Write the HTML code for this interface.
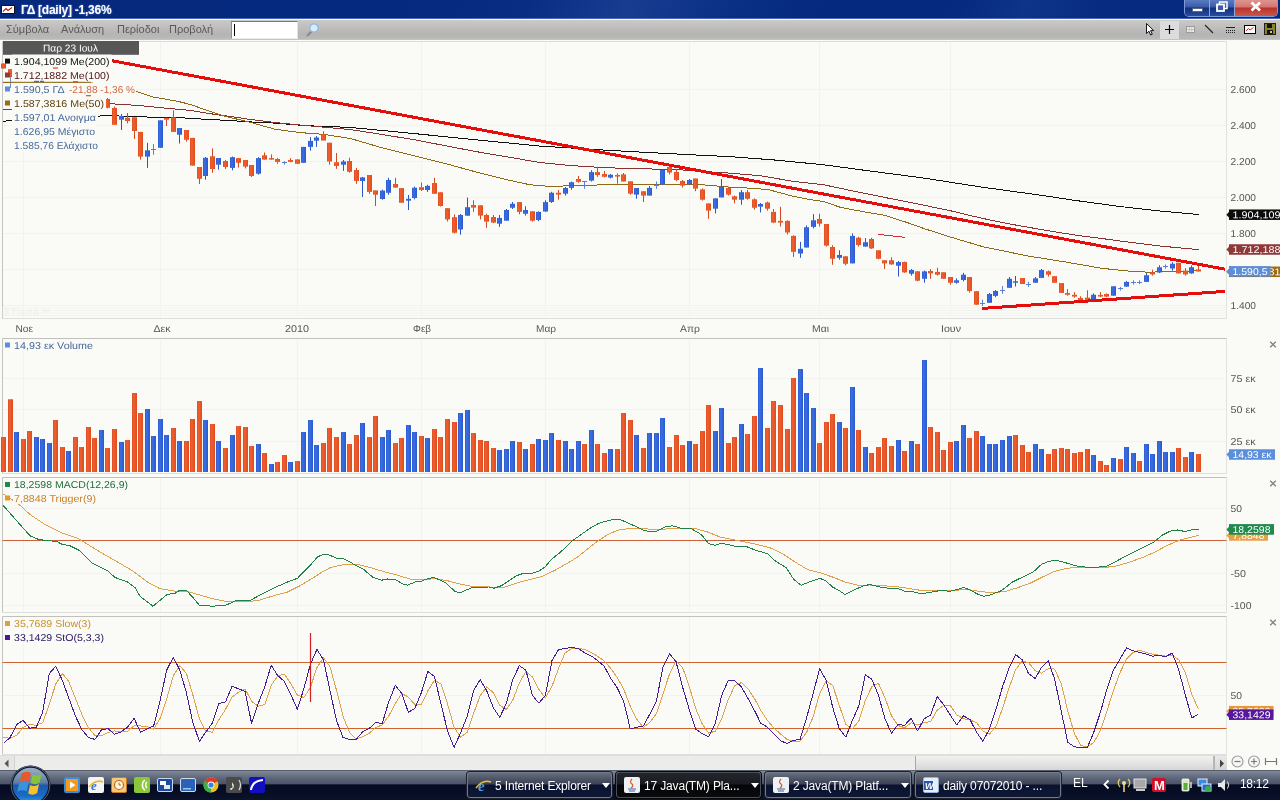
<!DOCTYPE html>
<html lang="el">
<head>
<meta charset="utf-8">
<title>ΓΔ [daily] -1,36%</title>
<style>
*{box-sizing:border-box;margin:0;padding:0}
html,body{width:1280px;height:800px;overflow:hidden;background:#fafaf6;font-family:"Liberation Sans","DejaVu Sans",sans-serif;}
#app{position:relative;width:1280px;height:800px;overflow:hidden}
#titlebar{position:absolute;left:0;top:0;width:1280px;height:19px;background:linear-gradient(115deg,#06287c 0%,#04297f 32%,#082d83 41%,#173c90 49%,#0a3086 57%,#04297f 64%,#04297f 74%,#0e3489 80%,#062b81 86%,#04297f 100%);border-bottom:1px solid #4668ba}
#titlebar .ico{position:absolute;left:1px;top:5px;width:14px;height:9px;background:#fff;border:1px solid #111}
#titlebar .ttl{position:absolute;left:21px;top:2px;height:17px;line-height:17px;color:#fff;font-weight:bold;font-size:12px;letter-spacing:-0.25px;text-shadow:0 0 2px #6a8fe0;white-space:nowrap}
#caps{position:absolute;left:1184px;top:-1px;width:94px;height:18px;border:1px solid #7f9ad8;border-top:none;border-radius:0 0 5px 5px;overflow:hidden;display:flex}
#caps div{height:17px;position:relative}
#caps .mn{width:25px;background:linear-gradient(#5f7fc4 0%,#3a5aa8 48%,#0f2f80 52%,#2a4c9c 100%);border-right:1px solid #8fa6dc}
#caps .rs{width:25px;background:linear-gradient(#5f7fc4 0%,#3a5aa8 48%,#0f2f80 52%,#2a4c9c 100%);border-right:1px solid #8fa6dc}
#caps .cl{width:43px;background:linear-gradient(#e09a94 0%,#d2756c 48%,#b8322a 52%,#c8584c 100%)}
#menubar{position:absolute;left:0;top:20px;width:1280px;height:20px;background:linear-gradient(#cbc9c6 0%,#c2c0be 30%,#b5b4b3 70%,#b9b9b8 92%,#c8c8c7 100%)}
#menubar span.m{position:absolute;top:3px;font-size:11px;line-height:13px;color:#5a5a5a;white-space:nowrap}
#search{position:absolute;left:231px;top:1px;width:67px;height:18px;background:#fff;border-top:1px solid #7a7a7a;border-left:1px solid #8a8a8a;border-right:1px solid #e4e4e4;border-bottom:1px solid #eee}
#search i{position:absolute;left:2px;top:2px;width:1px;height:12px;background:#000}
#chart{position:absolute;left:0;top:0}
#scroll{position:absolute;left:0;top:755px;width:1227px;height:15px;background:#ececeb;border-top:1px solid #dededc}
#scroll .thumb{position:absolute;left:915px;top:0;width:299px;height:14px;background:linear-gradient(#f1f1f1 0%,#e6e6e6 45%,#d5d5d5 100%);border-left:1px solid #a8a8a8;border-right:1px solid #b8b8b8}
#scroll .la{position:absolute;left:0;top:0;width:15px;height:14px;background:#e6e6e5;border-right:1px solid #d2d2d0}
#scroll .ra{position:absolute;left:1214px;top:0;width:13px;height:14px;background:linear-gradient(#e9e9e9,#d4d4d4);border-left:1px solid #b4b4b4}
#taskbar{position:absolute;left:0;top:770px;width:1280px;height:30px;background:linear-gradient(#3c414c 0%,#7f8898 4%,#737c8d 12%,#5a6376 30%,#4a5468 47%,#050c22 49%,#060d24 75%,#0b132c 100%);color:#fff;font-size:12px}
.tb{position:absolute;top:2px;height:26px;border:1px solid #737b8a;border-radius:3px;background:linear-gradient(#666e80 0%,#4c5466 25%,#3a4254 47%,#0a1230 49%,#0e1734 100%);white-space:nowrap;line-height:23px;box-shadow:0 0 0 1px #1a1f2a}
.tb.act{background:linear-gradient(#24262c 0%,#191b20 47%,#040506 49%,#0a0b0e 100%);border-color:#4a4e58;box-shadow:0 0 0 1px #05070a}
.tb span{position:absolute;left:27px;top:2px;font-size:12px;color:#fff;letter-spacing:-0.15px}
.tb b{position:absolute;right:1px;top:10px;width:0;height:0;border:4px solid transparent;border-top:5px solid #fff}
.tb em{position:absolute;left:7px;top:4px;width:16px;height:16px;border-radius:2px}
.ql{position:absolute;top:7px;width:16px;height:16px;border-radius:2px}
#tray{position:absolute;left:1070px;top:0;width:210px;height:31px}
#tray span{position:absolute;top:7px;font-size:12px;color:#fff}
</style>
</head>
<body>
<div id="app">
<div id="titlebar">
  <div class="ico"><svg width="12" height="7" viewBox="0 0 12 7" style="display:block"><polyline points="1,5.5 4,2.5 6,4.5 10,1.5" fill="none" stroke="#c01818" stroke-width="1.1"/></svg></div>
  <div class="ttl">ΓΔ [daily] -1,36%</div>
  <div id="caps"><div class="mn"><svg width="25" height="17"><rect x="7.5" y="9.5" width="10" height="3" fill="#fff" stroke="#4a5a80" stroke-width="0.8"/></svg></div><div class="rs"><svg width="25" height="17"><rect x="9.500" y="3" width="7.500" height="6.500" fill="none" stroke="#fff" stroke-width="1.500"/><rect x="7" y="5.500" width="7" height="6.500" fill="#3a5aa8" stroke="#fff" stroke-width="1.800"/></svg></div><div class="cl"><svg width="43" height="17"><path d="M16.500 3.500 L25 11.500 M25 3.500 L16.500 11.500" stroke="#fff" stroke-width="2.800" fill="none"/></svg></div></div>
</div>
<div id="menubar">
  <span class="m" style="left:6px">Σύμβολα</span>
  <span class="m" style="left:61px">Ανάλυση</span>
  <span class="m" style="left:117px">Περίοδοι</span>
  <span class="m" style="left:169px">Προβολή</span>
  <div id="search"><i></i></div>
  <svg style="position:absolute;left:303px;top:1px" width="20" height="18" viewBox="0 0 20 18"><line x1="9" y1="10" x2="4" y2="15" stroke="#8a8a8a" stroke-width="2"/><circle cx="11" cy="7" r="4.2" fill="#d6ecfa" stroke="#8fb8dc" stroke-width="1.2"/></svg>
  <svg style="position:absolute;left:1140px;top:0" width="140" height="20" viewBox="0 0 140 20">
    <rect x="20" y="1" width="19" height="18" fill="#dcdcdc"/>
    <path d="M6.5 3.5 v10 l2.4 -2.3 l1.8 3.8 l1.6 -.8 l-1.8 -3.6 h3.2 z" fill="#fff" stroke="#000" stroke-width="0.9"/>
    <path d="M29.5 5 v9 M25 9.5 h9" stroke="#000" stroke-width="1.2" fill="none"/>
    <rect x="46.5" y="6.5" width="8" height="6" fill="#eee" stroke="#999" stroke-width="1"/><path d="M46.5 9.5 h8 M49.2 6.5 v6 M51.8 6.5 v6" stroke="#aaa" stroke-width="0.6"/>
    <line x1="65" y1="5" x2="73" y2="13" stroke="#222" stroke-width="1.1"/>
    <path d="M86 7.5 h9" stroke="#222" stroke-width="1"/><path d="M86 10.5 h9 M86 12.5 h9" stroke="#222" stroke-width="1" stroke-dasharray="1 1"/>
    <rect x="104.500" y="5.500" width="11" height="8" fill="#fff" stroke="#000" stroke-width="1"/><polyline points="106,11 108.500,8.500 110,10 113.500,7.500" fill="none" stroke="#c01818" stroke-width="0.9"/>
    <rect x="124.500" y="3.500" width="11" height="11" fill="#8a8426" stroke="#222" stroke-width="1"/><rect x="127" y="4" width="5" height="4" fill="#111"/><rect x="127" y="10" width="6" height="4" fill="#111"/><rect x="130" y="11" width="2" height="2" fill="#d8d060"/>
  </svg>
</div>
<svg id="chart" width="1280" height="800" viewBox="0 0 1280 800" font-family="Liberation Sans, DejaVu Sans, sans-serif">
<defs>
<linearGradient id="go" x1="0" x2="1" y1="0" y2="0"><stop offset="0" stop-color="#df4d22"/><stop offset="0.35" stop-color="#ee6030"/><stop offset="1" stop-color="#e04a1e"/></linearGradient>
<linearGradient id="gb" x1="0" x2="1" y1="0" y2="0"><stop offset="0" stop-color="#2d5cd2"/><stop offset="0.35" stop-color="#3b6ee4"/><stop offset="1" stop-color="#2a58cc"/></linearGradient>
<clipPath id="cpMain"><rect x="0" y="41" width="1227" height="278"/></clipPath>
<clipPath id="cpAll"><rect x="0" y="0" width="1280" height="800"/></clipPath>
</defs>
<rect x="0" y="40" width="1280" height="716" fill="#fafaf6"/>
<line x1="23.5" y1="41.5" x2="23.5" y2="318.5" stroke="#f2f2ee"/>
<line x1="160.5" y1="41.5" x2="160.5" y2="318.5" stroke="#f2f2ee"/>
<line x1="297.5" y1="41.5" x2="297.5" y2="318.5" stroke="#f2f2ee"/>
<line x1="421.5" y1="41.5" x2="421.5" y2="318.5" stroke="#f2f2ee"/>
<line x1="545.5" y1="41.5" x2="545.5" y2="318.5" stroke="#f2f2ee"/>
<line x1="689.5" y1="41.5" x2="689.5" y2="318.5" stroke="#f2f2ee"/>
<line x1="819.5" y1="41.5" x2="819.5" y2="318.5" stroke="#f2f2ee"/>
<line x1="950.5" y1="41.5" x2="950.5" y2="318.5" stroke="#f2f2ee"/>
<line x1="2.5" y1="89.5" x2="1226.5" y2="89.5" stroke="#f2f2ee"/>
<line x1="2.5" y1="125.5" x2="1226.5" y2="125.5" stroke="#f2f2ee"/>
<line x1="2.5" y1="161.5" x2="1226.5" y2="161.5" stroke="#f2f2ee"/>
<line x1="2.5" y1="197.5" x2="1226.5" y2="197.5" stroke="#f2f2ee"/>
<line x1="2.5" y1="233.5" x2="1226.5" y2="233.5" stroke="#f2f2ee"/>
<line x1="2.5" y1="269.5" x2="1226.5" y2="269.5" stroke="#f2f2ee"/>
<line x1="2.5" y1="305.5" x2="1226.5" y2="305.5" stroke="#f2f2ee"/>
<line x1="2.5" y1="41.5" x2="2.5" y2="318.5" stroke="#c4c4c0"/>
<line x1="1226.5" y1="41.5" x2="1226.5" y2="318.5" stroke="#e2e2de"/>
<line x1="2.5" y1="41.5" x2="1226.5" y2="41.5" stroke="#dcdcd8"/>
<line x1="2.5" y1="318.5" x2="1226.5" y2="318.5" stroke="#dededa"/>
<line x1="23.5" y1="338.5" x2="23.5" y2="473.5" stroke="#f2f2ee"/>
<line x1="160.5" y1="338.5" x2="160.5" y2="473.5" stroke="#f2f2ee"/>
<line x1="297.5" y1="338.5" x2="297.5" y2="473.5" stroke="#f2f2ee"/>
<line x1="421.5" y1="338.5" x2="421.5" y2="473.5" stroke="#f2f2ee"/>
<line x1="545.5" y1="338.5" x2="545.5" y2="473.5" stroke="#f2f2ee"/>
<line x1="689.5" y1="338.5" x2="689.5" y2="473.5" stroke="#f2f2ee"/>
<line x1="819.5" y1="338.5" x2="819.5" y2="473.5" stroke="#f2f2ee"/>
<line x1="950.5" y1="338.5" x2="950.5" y2="473.5" stroke="#f2f2ee"/>
<line x1="2.5" y1="378.5" x2="1226.5" y2="378.5" stroke="#f2f2ee"/>
<line x1="2.5" y1="409.5" x2="1226.5" y2="409.5" stroke="#f2f2ee"/>
<line x1="2.5" y1="441.5" x2="1226.5" y2="441.5" stroke="#f2f2ee"/>
<line x1="2.5" y1="338.5" x2="2.5" y2="473.5" stroke="#c4c4c0"/>
<line x1="1226.5" y1="338.5" x2="1226.5" y2="473.5" stroke="#e2e2de"/>
<line x1="2.5" y1="338.5" x2="1226.5" y2="338.5" stroke="#c0c0bc"/>
<line x1="2.5" y1="473.5" x2="1226.5" y2="473.5" stroke="#dededa"/>
<line x1="23.5" y1="477.5" x2="23.5" y2="612.5" stroke="#f2f2ee"/>
<line x1="160.5" y1="477.5" x2="160.5" y2="612.5" stroke="#f2f2ee"/>
<line x1="297.5" y1="477.5" x2="297.5" y2="612.5" stroke="#f2f2ee"/>
<line x1="421.5" y1="477.5" x2="421.5" y2="612.5" stroke="#f2f2ee"/>
<line x1="545.5" y1="477.5" x2="545.5" y2="612.5" stroke="#f2f2ee"/>
<line x1="689.5" y1="477.5" x2="689.5" y2="612.5" stroke="#f2f2ee"/>
<line x1="819.5" y1="477.5" x2="819.5" y2="612.5" stroke="#f2f2ee"/>
<line x1="950.5" y1="477.5" x2="950.5" y2="612.5" stroke="#f2f2ee"/>
<line x1="2.5" y1="508.5" x2="1226.5" y2="508.5" stroke="#f2f2ee"/>
<line x1="2.5" y1="573.5" x2="1226.5" y2="573.5" stroke="#f2f2ee"/>
<line x1="2.5" y1="605.5" x2="1226.5" y2="605.5" stroke="#f2f2ee"/>
<line x1="2.5" y1="477.5" x2="2.5" y2="612.5" stroke="#c4c4c0"/>
<line x1="1226.5" y1="477.5" x2="1226.5" y2="612.5" stroke="#e2e2de"/>
<line x1="2.5" y1="477.5" x2="1226.5" y2="477.5" stroke="#c0c0bc"/>
<line x1="2.5" y1="612.5" x2="1226.5" y2="612.5" stroke="#dededa"/>
<line x1="23.5" y1="616.5" x2="23.5" y2="754.5" stroke="#f2f2ee"/>
<line x1="160.5" y1="616.5" x2="160.5" y2="754.5" stroke="#f2f2ee"/>
<line x1="297.5" y1="616.5" x2="297.5" y2="754.5" stroke="#f2f2ee"/>
<line x1="421.5" y1="616.5" x2="421.5" y2="754.5" stroke="#f2f2ee"/>
<line x1="545.5" y1="616.5" x2="545.5" y2="754.5" stroke="#f2f2ee"/>
<line x1="689.5" y1="616.5" x2="689.5" y2="754.5" stroke="#f2f2ee"/>
<line x1="819.5" y1="616.5" x2="819.5" y2="754.5" stroke="#f2f2ee"/>
<line x1="950.5" y1="616.5" x2="950.5" y2="754.5" stroke="#f2f2ee"/>
<line x1="2.5" y1="695.5" x2="1226.5" y2="695.5" stroke="#f2f2ee"/>
<line x1="2.5" y1="616.5" x2="2.5" y2="754.5" stroke="#c4c4c0"/>
<line x1="1226.5" y1="616.5" x2="1226.5" y2="754.5" stroke="#e2e2de"/>
<line x1="2.5" y1="616.5" x2="1226.5" y2="616.5" stroke="#c0c0bc"/>
<line x1="2.5" y1="754.5" x2="1226.5" y2="754.5" stroke="#dededa"/>
<line x1="2.5" y1="308" x2="1226.5" y2="308" stroke="#f3f3ef"/>
<line x1="2.5" y1="310.5" x2="1226.5" y2="310.5" stroke="#f3f3ef"/>
<line x1="2.5" y1="313" x2="1226.5" y2="313" stroke="#f3f3ef"/>
<line x1="2.5" y1="315.5" x2="1226.5" y2="315.5" stroke="#f3f3ef"/>
<text x="4" y="315.5" font-size="10" fill="#f0f0ec" font-weight="bold" letter-spacing="0.6">ΣΤΙεdΑ™</text>
<g clip-path="url(#cpMain)">
<polyline fill="none" stroke="#101010" stroke-width="1" stroke-linejoin="round" shape-rendering="crispEdges" points="3,121.6 10,120.3 50,118.3 98,116.25 105,115.4 140,116.9 177.5,117.5 202.5,119.1 227.5,120.4 250,121.9 275,123.1 306,125.7 325,126.4 350,127.4 412.5,133.4 475,139.7 540,146.1 602.5,150 665,153.4 696,155 730,156.6 777,160.2 823.75,164.8 870.6,171.1 920,177.5 982.5,187.2 1045,195.8 1070.6,199.8 1120,206.5 1160,211 1199,214.6"/>
<polyline fill="none" stroke="#8a3232" stroke-width="1" stroke-linejoin="round" shape-rendering="crispEdges" points="3,109.4 12,109.2 60,106.3 110.6,103.75 140,105.6 165,108.1 190,110.4 215,114.4 237.5,117.5 250,119.4 275,122.5 306,125.6 350,129.5 360,131 412.5,139.4 475,151.4 540,162.5 571,165.6 602.5,167.5 633.75,168.75 665,169.2 680,169.8 712,172.2 730,173.1 761,175.8 792.5,181.25 823.75,184.8 855,191.4 886,197.7 920,204.4 951,210.9 982.5,218.4 1013.75,224.7 1045,230.2 1076,235.2 1102.5,238.6 1120,241 1158.75,245.9 1199,249.7"/>
<polyline fill="none" stroke="#8f6a14" stroke-width="1" stroke-linejoin="round" shape-rendering="crispEdges" points="3,82.75 90,82.6 115,86 134.4,90.6 152.5,96.9 177.5,101.25 190,104.4 202.5,108.75 215,113.1 227.5,116.9 247.5,121.6 275,129.2 300,132.6 323,134.3 350,138.4 381,147.5 412.5,155.3 443.75,163.1 475,171.7 506,179.5 529.7,184.7 550,186.4 563.4,186 587,185.5 610,184.4 633.75,184.4 649,185 665,184.4 696,184.4 712,185.5 730,187.2 753.4,188.3 769,189.8 792.5,196.1 808,199.2 823.75,201.6 839.4,207 855,210.2 886,215.6 909.7,223.4 925,228.9 951,237.2 982.5,246.6 995,249.2 1027.5,255.9 1065,261.9 1102.5,268.4 1130.6,271.25 1149,272.2 1177.5,271.25 1199,270.9"/>
<line x1="878" y1="234.4" x2="905" y2="237.3" stroke="#dc2a2a" stroke-width="1" shape-rendering="crispEdges"/>
<line x1="3.5" y1="63.5" x2="3.5" y2="68.5" stroke="#cf4a20"/>
<rect x="1" y="63.5" width="5" height="5" fill="url(#go)"/>
<line x1="10.5" y1="69.2" x2="10.5" y2="77" stroke="#cf4a20"/>
<rect x="8" y="69.2" width="5" height="7.8" fill="url(#go)"/>
<line x1="107.5" y1="98" x2="107.5" y2="108.4" stroke="#cf4a20"/>
<rect x="105" y="99" width="5" height="8.8" fill="url(#go)"/>
<line x1="114.5" y1="106.5" x2="114.5" y2="124.8" stroke="#cf4a20"/>
<rect x="112" y="107.9" width="5" height="16.9" fill="url(#go)"/>
<line x1="121.5" y1="114" x2="121.5" y2="130" stroke="#2a55c4"/>
<rect x="119" y="116" width="5" height="3.7" fill="url(#gb)"/>
<line x1="127.5" y1="113" x2="127.5" y2="123.4" stroke="#cf4a20"/>
<rect x="125" y="117.8" width="5" height="3.2" fill="url(#go)"/>
<line x1="134.5" y1="117.3" x2="134.5" y2="139" stroke="#cf4a20"/>
<rect x="132" y="117.3" width="5" height="13.7" fill="url(#go)"/>
<line x1="140.5" y1="131.9" x2="140.5" y2="159.6" stroke="#cf4a20"/>
<rect x="138" y="131.9" width="5" height="24.7" fill="url(#go)"/>
<line x1="147.5" y1="142.8" x2="147.5" y2="167.9" stroke="#2a55c4"/>
<rect x="145" y="150.3" width="5" height="6.3" fill="url(#gb)"/>
<line x1="153.5" y1="144" x2="153.5" y2="154.8" stroke="#5a80d4"/>
<line x1="151" y1="149.5" x2="156" y2="149.5" stroke="#5a80d4"/>
<line x1="160.5" y1="120.3" x2="160.5" y2="147.8" stroke="#2a55c4"/>
<rect x="158" y="120.3" width="5" height="27.5" fill="url(#gb)"/>
<line x1="166.5" y1="117.8" x2="166.5" y2="126" stroke="#cf4a20"/>
<rect x="164" y="117.8" width="5" height="1.9" fill="url(#go)"/>
<line x1="173.5" y1="110.3" x2="173.5" y2="132" stroke="#cf4a20"/>
<rect x="171" y="117.3" width="5" height="14.6" fill="url(#go)"/>
<line x1="179.5" y1="128" x2="179.5" y2="143.5" stroke="#2a55c4"/>
<rect x="177" y="128" width="5" height="6.7" fill="url(#gb)"/>
<line x1="186.5" y1="130" x2="186.5" y2="141.6" stroke="#cf4a20"/>
<rect x="184" y="130" width="5" height="9.8" fill="url(#go)"/>
<line x1="192.5" y1="137.9" x2="192.5" y2="165.6" stroke="#cf4a20"/>
<rect x="190" y="137.9" width="5" height="27.7" fill="url(#go)"/>
<line x1="199.5" y1="167" x2="199.5" y2="184" stroke="#cf4a20"/>
<rect x="197" y="167" width="5" height="11.8" fill="url(#go)"/>
<line x1="205.5" y1="157" x2="205.5" y2="179.7" stroke="#2a55c4"/>
<rect x="203" y="157.8" width="5" height="18.2" fill="url(#gb)"/>
<line x1="212.5" y1="148.4" x2="212.5" y2="172.8" stroke="#cf4a20"/>
<rect x="210" y="156.3" width="5" height="12.7" fill="url(#go)"/>
<line x1="218.5" y1="158" x2="218.5" y2="169.7" stroke="#2a55c4"/>
<rect x="216" y="158" width="5" height="6.7" fill="url(#gb)"/>
<line x1="225.5" y1="160" x2="225.5" y2="169" stroke="#cf4a20"/>
<rect x="223" y="161" width="5" height="6" fill="url(#go)"/>
<line x1="232.5" y1="156.5" x2="232.5" y2="170.3" stroke="#2a55c4"/>
<rect x="230" y="157.2" width="5" height="10.7" fill="url(#gb)"/>
<line x1="238.5" y1="158.1" x2="238.5" y2="167.5" stroke="#cf4a20"/>
<rect x="236" y="158.1" width="5" height="4.7" fill="url(#go)"/>
<line x1="245.5" y1="160" x2="245.5" y2="168.4" stroke="#cf4a20"/>
<rect x="243" y="160" width="5" height="6.6" fill="url(#go)"/>
<line x1="251.5" y1="165" x2="251.5" y2="177" stroke="#cf4a20"/>
<rect x="249" y="165" width="5" height="11" fill="url(#go)"/>
<line x1="258.5" y1="157.2" x2="258.5" y2="174.6" stroke="#2a55c4"/>
<rect x="256" y="158.1" width="5" height="15.6" fill="url(#gb)"/>
<line x1="264.5" y1="152.5" x2="264.5" y2="159.6" stroke="#cf4a20"/>
<rect x="262" y="155.3" width="5" height="4.3" fill="url(#go)"/>
<line x1="271.5" y1="154.4" x2="271.5" y2="159.6" stroke="#cf4a20"/>
<rect x="269" y="158.1" width="5" height="1.5" fill="url(#go)"/>
<line x1="277.5" y1="158.1" x2="277.5" y2="163.75" stroke="#cf4a20"/>
<rect x="275" y="159" width="5" height="2.9" fill="url(#go)"/>
<line x1="284.5" y1="161" x2="284.5" y2="164.7" stroke="#5a80d4"/>
<line x1="282" y1="162.5" x2="287" y2="162.5" stroke="#5a80d4"/>
<line x1="290.5" y1="158.1" x2="290.5" y2="162.3" stroke="#cf4a20"/>
<rect x="288" y="160" width="5" height="1.9" fill="url(#go)"/>
<line x1="297.5" y1="159.4" x2="297.5" y2="163.8" stroke="#cf4a20"/>
<rect x="295" y="159.4" width="5" height="4.4" fill="url(#go)"/>
<line x1="303.5" y1="146.9" x2="303.5" y2="162.8" stroke="#2a55c4"/>
<rect x="301" y="146.9" width="5" height="15.9" fill="url(#gb)"/>
<line x1="310.5" y1="137.1" x2="310.5" y2="150.6" stroke="#2a55c4"/>
<rect x="308" y="140.9" width="5" height="6" fill="url(#gb)"/>
<line x1="316.5" y1="136" x2="316.5" y2="146.9" stroke="#2a55c4"/>
<rect x="314" y="137.5" width="5" height="3.2" fill="url(#gb)"/>
<line x1="323.5" y1="131.3" x2="323.5" y2="140.5" stroke="#cf4a20"/>
<rect x="321" y="134.1" width="5" height="6.4" fill="url(#go)"/>
<line x1="329.5" y1="142.75" x2="329.5" y2="164.7" stroke="#cf4a20"/>
<rect x="327" y="142.75" width="5" height="18.75" fill="url(#go)"/>
<line x1="336.5" y1="153" x2="336.5" y2="168.8" stroke="#cf4a20"/>
<rect x="334" y="162.25" width="5" height="3.75" fill="url(#go)"/>
<line x1="343.5" y1="160" x2="343.5" y2="170.9" stroke="#2a55c4"/>
<rect x="341" y="161.5" width="5" height="3.2" fill="url(#gb)"/>
<line x1="349.5" y1="157.75" x2="349.5" y2="172.75" stroke="#cf4a20"/>
<rect x="347" y="161" width="5" height="10.8" fill="url(#go)"/>
<line x1="356.5" y1="168" x2="356.5" y2="183.8" stroke="#cf4a20"/>
<rect x="354" y="170" width="5" height="11" fill="url(#go)"/>
<line x1="362.5" y1="176.9" x2="362.5" y2="197" stroke="#2a55c4"/>
<rect x="360" y="177.4" width="5" height="3.6" fill="url(#gb)"/>
<line x1="369.5" y1="175" x2="369.5" y2="193.75" stroke="#cf4a20"/>
<rect x="367" y="175" width="5" height="16.9" fill="url(#go)"/>
<line x1="375.5" y1="190.4" x2="375.5" y2="206" stroke="#cf4a20"/>
<rect x="373" y="190.4" width="5" height="4.3" fill="url(#go)"/>
<line x1="382.5" y1="189.6" x2="382.5" y2="199.75" stroke="#2a55c4"/>
<rect x="380" y="190.6" width="5" height="8.4" fill="url(#gb)"/>
<line x1="388.5" y1="177.8" x2="388.5" y2="194.7" stroke="#2a55c4"/>
<rect x="386" y="180" width="5" height="12.8" fill="url(#gb)"/>
<line x1="395.5" y1="177.8" x2="395.5" y2="187.6" stroke="#cf4a20"/>
<rect x="393" y="184" width="5" height="3.6" fill="url(#go)"/>
<line x1="401.5" y1="188.1" x2="401.5" y2="202.75" stroke="#cf4a20"/>
<rect x="399" y="188.1" width="5" height="14.65" fill="url(#go)"/>
<line x1="408.5" y1="195" x2="408.5" y2="210" stroke="#2a55c4"/>
<rect x="406" y="198.8" width="5" height="1.9" fill="url(#gb)"/>
<line x1="414.5" y1="186.6" x2="414.5" y2="199.4" stroke="#2a55c4"/>
<rect x="412" y="187.75" width="5" height="10.25" fill="url(#gb)"/>
<line x1="421.5" y1="182.5" x2="421.5" y2="191" stroke="#cf4a20"/>
<rect x="419" y="187.2" width="5" height="2.8" fill="url(#go)"/>
<line x1="427.5" y1="184.75" x2="427.5" y2="191.9" stroke="#2a55c4"/>
<rect x="425" y="185.9" width="5" height="4.1" fill="url(#gb)"/>
<line x1="434.5" y1="177.8" x2="434.5" y2="193.75" stroke="#cf4a20"/>
<rect x="432" y="183" width="5" height="10.75" fill="url(#go)"/>
<line x1="440.5" y1="192.25" x2="440.5" y2="206.5" stroke="#cf4a20"/>
<rect x="438" y="192.25" width="5" height="13.75" fill="url(#go)"/>
<line x1="447.5" y1="208.2" x2="447.5" y2="221.5" stroke="#cf4a20"/>
<rect x="445" y="208.2" width="5" height="11.2" fill="url(#go)"/>
<line x1="454.5" y1="214.4" x2="454.5" y2="233.5" stroke="#cf4a20"/>
<rect x="452" y="217.2" width="5" height="15.55" fill="url(#go)"/>
<line x1="460.5" y1="214" x2="460.5" y2="234.6" stroke="#2a55c4"/>
<rect x="458" y="215" width="5" height="14.5" fill="url(#gb)"/>
<line x1="467.5" y1="197.6" x2="467.5" y2="215.7" stroke="#2a55c4"/>
<rect x="465" y="207.2" width="5" height="8.5" fill="url(#gb)"/>
<line x1="473.5" y1="200.25" x2="473.5" y2="211.9" stroke="#cf4a20"/>
<rect x="471" y="205" width="5" height="2.6" fill="url(#go)"/>
<line x1="480.5" y1="205.3" x2="480.5" y2="219.4" stroke="#cf4a20"/>
<rect x="478" y="205.3" width="5" height="10.3" fill="url(#go)"/>
<line x1="486.5" y1="213.75" x2="486.5" y2="227.8" stroke="#cf4a20"/>
<rect x="484" y="215" width="5" height="6.6" fill="url(#go)"/>
<line x1="493.5" y1="215" x2="493.5" y2="223.1" stroke="#cf4a20"/>
<rect x="491" y="217" width="5" height="5.6" fill="url(#go)"/>
<line x1="499.5" y1="215" x2="499.5" y2="226.9" stroke="#2a55c4"/>
<rect x="497" y="217.9" width="5" height="5.8" fill="url(#gb)"/>
<line x1="506.5" y1="209" x2="506.5" y2="220.7" stroke="#2a55c4"/>
<rect x="504" y="210" width="5" height="10.7" fill="url(#gb)"/>
<line x1="512.5" y1="202" x2="512.5" y2="209" stroke="#2a55c4"/>
<rect x="510" y="203.8" width="5" height="3.95" fill="url(#gb)"/>
<line x1="519.5" y1="202.1" x2="519.5" y2="214.3" stroke="#cf4a20"/>
<rect x="517" y="202.1" width="5" height="9.8" fill="url(#go)"/>
<line x1="525.5" y1="206.25" x2="525.5" y2="215.6" stroke="#2a55c4"/>
<rect x="523" y="210" width="5" height="3.75" fill="url(#gb)"/>
<line x1="532.5" y1="211" x2="532.5" y2="221.6" stroke="#cf4a20"/>
<rect x="530" y="211.3" width="5" height="9.4" fill="url(#go)"/>
<line x1="538.5" y1="211.3" x2="538.5" y2="221.25" stroke="#2a55c4"/>
<rect x="536" y="211.9" width="5" height="8.1" fill="url(#gb)"/>
<line x1="545.5" y1="200.25" x2="545.5" y2="211.9" stroke="#2a55c4"/>
<rect x="543" y="202.1" width="5" height="9.4" fill="url(#gb)"/>
<line x1="551.5" y1="191.8" x2="551.5" y2="203" stroke="#2a55c4"/>
<rect x="549" y="192.75" width="5" height="9.25" fill="url(#gb)"/>
<line x1="558.5" y1="190" x2="558.5" y2="199.7" stroke="#cf4a20"/>
<rect x="556" y="192.75" width="5" height="1.85" fill="url(#go)"/>
<line x1="565.5" y1="187" x2="565.5" y2="195.6" stroke="#2a55c4"/>
<rect x="563" y="188" width="5" height="5.7" fill="url(#gb)"/>
<line x1="571.5" y1="181.5" x2="571.5" y2="189.75" stroke="#2a55c4"/>
<rect x="569" y="182.25" width="5" height="5.65" fill="url(#gb)"/>
<line x1="578.5" y1="175.9" x2="578.5" y2="182.8" stroke="#cf4a20"/>
<rect x="576" y="179" width="5" height="2.9" fill="url(#go)"/>
<line x1="584.5" y1="181" x2="584.5" y2="188.8" stroke="#5a80d4"/>
<line x1="582" y1="181.5" x2="587" y2="181.5" stroke="#5a80d4"/>
<line x1="591.5" y1="170.25" x2="591.5" y2="181.5" stroke="#2a55c4"/>
<rect x="589" y="172.1" width="5" height="8.5" fill="url(#gb)"/>
<line x1="597.5" y1="166.9" x2="597.5" y2="176.8" stroke="#cf4a20"/>
<rect x="595" y="172.1" width="5" height="2.9" fill="url(#go)"/>
<line x1="604.5" y1="171" x2="604.5" y2="177.4" stroke="#cf4a20"/>
<rect x="602" y="174" width="5" height="2.8" fill="url(#go)"/>
<line x1="610.5" y1="174" x2="610.5" y2="178.5" stroke="#2a55c4"/>
<rect x="608" y="174.75" width="5" height="2.85" fill="url(#gb)"/>
<line x1="617.5" y1="173.4" x2="617.5" y2="183.75" stroke="#cf4a20"/>
<rect x="615" y="175" width="5" height="1.6" fill="url(#go)"/>
<line x1="623.5" y1="173" x2="623.5" y2="181.5" stroke="#cf4a20"/>
<rect x="621" y="174.4" width="5" height="7.1" fill="url(#go)"/>
<line x1="630.5" y1="181.3" x2="630.5" y2="194.6" stroke="#cf4a20"/>
<rect x="628" y="181.3" width="5" height="12.4" fill="url(#go)"/>
<line x1="636.5" y1="188" x2="636.5" y2="198.75" stroke="#2a55c4"/>
<rect x="634" y="188" width="5" height="6.6" fill="url(#gb)"/>
<line x1="643.5" y1="191.25" x2="643.5" y2="202" stroke="#cf4a20"/>
<rect x="641" y="191.25" width="5" height="4.35" fill="url(#go)"/>
<line x1="649.5" y1="186" x2="649.5" y2="195.6" stroke="#2a55c4"/>
<rect x="647" y="187.9" width="5" height="7.7" fill="url(#gb)"/>
<line x1="656.5" y1="181.5" x2="656.5" y2="188.8" stroke="#5a80d4"/>
<line x1="654" y1="185.5" x2="659" y2="185.5" stroke="#5a80d4"/>
<line x1="662.5" y1="170" x2="662.5" y2="184.3" stroke="#2a55c4"/>
<rect x="660" y="170" width="5" height="14.3" fill="url(#gb)"/>
<line x1="669.5" y1="165.4" x2="669.5" y2="174.4" stroke="#cf4a20"/>
<rect x="667" y="166.9" width="5" height="5.6" fill="url(#go)"/>
<line x1="676.5" y1="169.1" x2="676.5" y2="181.3" stroke="#cf4a20"/>
<rect x="674" y="172" width="5" height="8" fill="url(#go)"/>
<line x1="682.5" y1="180" x2="682.5" y2="187.5" stroke="#cf4a20"/>
<rect x="680" y="181" width="5" height="4.6" fill="url(#go)"/>
<line x1="689.5" y1="179" x2="689.5" y2="185" stroke="#2a55c4"/>
<rect x="687" y="180" width="5" height="4.3" fill="url(#gb)"/>
<line x1="695.5" y1="178.5" x2="695.5" y2="191.25" stroke="#cf4a20"/>
<rect x="693" y="178.5" width="5" height="10.1" fill="url(#go)"/>
<line x1="702.5" y1="188.4" x2="702.5" y2="200.6" stroke="#cf4a20"/>
<rect x="700" y="189.4" width="5" height="10.3" fill="url(#go)"/>
<line x1="708.5" y1="203.4" x2="708.5" y2="218.8" stroke="#cf4a20"/>
<rect x="706" y="203.4" width="5" height="7.2" fill="url(#go)"/>
<line x1="715.5" y1="198.4" x2="715.5" y2="213.4" stroke="#2a55c4"/>
<rect x="713" y="198.4" width="5" height="10.3" fill="url(#gb)"/>
<line x1="721.5" y1="179" x2="721.5" y2="197.4" stroke="#2a55c4"/>
<rect x="719" y="186.6" width="5" height="10.8" fill="url(#gb)"/>
<line x1="728.5" y1="186.6" x2="728.5" y2="195.6" stroke="#cf4a20"/>
<rect x="726" y="188" width="5" height="6.6" fill="url(#go)"/>
<line x1="734.5" y1="195.6" x2="734.5" y2="203.4" stroke="#cf4a20"/>
<rect x="732" y="196.3" width="5" height="3.4" fill="url(#go)"/>
<line x1="741.5" y1="190" x2="741.5" y2="204.75" stroke="#2a55c4"/>
<rect x="739" y="192.2" width="5" height="7.5" fill="url(#gb)"/>
<line x1="747.5" y1="190" x2="747.5" y2="199.7" stroke="#cf4a20"/>
<rect x="745" y="192.2" width="5" height="6.55" fill="url(#go)"/>
<line x1="754.5" y1="198.4" x2="754.5" y2="209.6" stroke="#cf4a20"/>
<rect x="752" y="199.3" width="5" height="8.45" fill="url(#go)"/>
<line x1="760.5" y1="203" x2="760.5" y2="212.4" stroke="#2a55c4"/>
<rect x="758" y="204" width="5" height="2.6" fill="url(#gb)"/>
<line x1="767.5" y1="201.6" x2="767.5" y2="210.6" stroke="#cf4a20"/>
<rect x="765" y="202.5" width="5" height="6.2" fill="url(#go)"/>
<line x1="773.5" y1="209" x2="773.5" y2="223.1" stroke="#cf4a20"/>
<rect x="771" y="211.9" width="5" height="10.7" fill="url(#go)"/>
<line x1="780.5" y1="206.8" x2="780.5" y2="226.5" stroke="#cf4a20"/>
<rect x="778" y="220.9" width="5" height="1.7" fill="url(#go)"/>
<line x1="787.5" y1="220.3" x2="787.5" y2="234.4" stroke="#cf4a20"/>
<rect x="785" y="220.9" width="5" height="11.6" fill="url(#go)"/>
<line x1="793.5" y1="235.3" x2="793.5" y2="256.9" stroke="#cf4a20"/>
<rect x="791" y="235.9" width="5" height="15.9" fill="url(#go)"/>
<line x1="800.5" y1="241.9" x2="800.5" y2="257.8" stroke="#2a55c4"/>
<rect x="798" y="248.8" width="5" height="4.7" fill="url(#gb)"/>
<line x1="806.5" y1="225.4" x2="806.5" y2="247.5" stroke="#2a55c4"/>
<rect x="804" y="227.25" width="5" height="20.25" fill="url(#gb)"/>
<line x1="813.5" y1="214.1" x2="813.5" y2="228.4" stroke="#2a55c4"/>
<rect x="811" y="220.3" width="5" height="6.6" fill="url(#gb)"/>
<line x1="819.5" y1="213.75" x2="819.5" y2="226.5" stroke="#cf4a20"/>
<rect x="817" y="219" width="5" height="4.7" fill="url(#go)"/>
<line x1="826.5" y1="224" x2="826.5" y2="246.6" stroke="#cf4a20"/>
<rect x="824" y="224" width="5" height="21.6" fill="url(#go)"/>
<line x1="832.5" y1="245.25" x2="832.5" y2="264.75" stroke="#cf4a20"/>
<rect x="830" y="247" width="5" height="11.75" fill="url(#go)"/>
<line x1="839.5" y1="250.3" x2="839.5" y2="259.7" stroke="#2a55c4"/>
<rect x="837" y="255" width="5" height="2.8" fill="url(#gb)"/>
<line x1="845.5" y1="256" x2="845.5" y2="265.3" stroke="#cf4a20"/>
<rect x="843" y="256.3" width="5" height="7.5" fill="url(#go)"/>
<line x1="852.5" y1="233.4" x2="852.5" y2="263.4" stroke="#2a55c4"/>
<rect x="850" y="235.9" width="5" height="27.5" fill="url(#gb)"/>
<line x1="858.5" y1="236.8" x2="858.5" y2="246.6" stroke="#cf4a20"/>
<rect x="856" y="237.75" width="5" height="7.25" fill="url(#go)"/>
<line x1="865.5" y1="238.1" x2="865.5" y2="246.6" stroke="#2a55c4"/>
<rect x="863" y="242.25" width="5" height="4.35" fill="url(#gb)"/>
<line x1="871.5" y1="237.75" x2="871.5" y2="249" stroke="#cf4a20"/>
<rect x="869" y="239" width="5" height="9.4" fill="url(#go)"/>
<line x1="878.5" y1="250.3" x2="878.5" y2="259.3" stroke="#cf4a20"/>
<rect x="876" y="250.3" width="5" height="8.45" fill="url(#go)"/>
<line x1="884.5" y1="260.25" x2="884.5" y2="269" stroke="#cf4a20"/>
<rect x="882" y="260.25" width="5" height="3.15" fill="url(#go)"/>
<line x1="891.5" y1="257.25" x2="891.5" y2="264.75" stroke="#cf4a20"/>
<rect x="889" y="260.25" width="5" height="4.15" fill="url(#go)"/>
<line x1="898.5" y1="261" x2="898.5" y2="276.5" stroke="#2a55c4"/>
<rect x="896" y="262.1" width="5" height="3.6" fill="url(#gb)"/>
<line x1="904.5" y1="261.6" x2="904.5" y2="272.8" stroke="#cf4a20"/>
<rect x="902" y="262" width="5" height="10.4" fill="url(#go)"/>
<line x1="911.5" y1="269" x2="911.5" y2="275.6" stroke="#2a55c4"/>
<rect x="909" y="270" width="5" height="3.75" fill="url(#gb)"/>
<line x1="917.5" y1="271" x2="917.5" y2="281.25" stroke="#cf4a20"/>
<rect x="915" y="271.3" width="5" height="9.4" fill="url(#go)"/>
<line x1="924.5" y1="270.5" x2="924.5" y2="282.75" stroke="#2a55c4"/>
<rect x="922" y="271.4" width="5" height="7.4" fill="url(#gb)"/>
<line x1="930.5" y1="269" x2="930.5" y2="278.8" stroke="#cf4a20"/>
<rect x="928" y="271" width="5" height="2.4" fill="url(#go)"/>
<line x1="937.5" y1="267.75" x2="937.5" y2="275.6" stroke="#cf4a20"/>
<rect x="935" y="271.9" width="5" height="2.8" fill="url(#go)"/>
<line x1="943.5" y1="272.25" x2="943.5" y2="278.8" stroke="#cf4a20"/>
<rect x="941" y="272.25" width="5" height="6.55" fill="url(#go)"/>
<line x1="950.5" y1="277" x2="950.5" y2="284.6" stroke="#cf4a20"/>
<rect x="948" y="277" width="5" height="5.75" fill="url(#go)"/>
<line x1="956.5" y1="278.4" x2="956.5" y2="283.7" stroke="#2a55c4"/>
<rect x="954" y="280.3" width="5" height="2.45" fill="url(#gb)"/>
<line x1="963.5" y1="272.8" x2="963.5" y2="281.25" stroke="#2a55c4"/>
<rect x="961" y="274.7" width="5" height="5.3" fill="url(#gb)"/>
<line x1="969.5" y1="277" x2="969.5" y2="292.5" stroke="#cf4a20"/>
<rect x="967" y="277" width="5" height="14" fill="url(#go)"/>
<line x1="976.5" y1="291.2" x2="976.5" y2="304.7" stroke="#cf4a20"/>
<rect x="974" y="291.2" width="5" height="13.5" fill="url(#go)"/>
<line x1="982.5" y1="299.6" x2="982.5" y2="306" stroke="#5a80d4"/>
<line x1="980" y1="303.5" x2="985" y2="303.5" stroke="#5a80d4"/>
<line x1="989.5" y1="292.9" x2="989.5" y2="302.8" stroke="#2a55c4"/>
<rect x="987" y="294" width="5" height="8.8" fill="url(#gb)"/>
<line x1="995.5" y1="290" x2="995.5" y2="297.2" stroke="#2a55c4"/>
<rect x="993" y="291" width="5" height="4.9" fill="url(#gb)"/>
<line x1="1002.5" y1="286" x2="1002.5" y2="293.8" stroke="#5a80d4"/>
<line x1="1000" y1="290.5" x2="1005" y2="290.5" stroke="#5a80d4"/>
<line x1="1009.5" y1="277" x2="1009.5" y2="287.8" stroke="#2a55c4"/>
<rect x="1007" y="278.8" width="5" height="9" fill="url(#gb)"/>
<line x1="1015.5" y1="276" x2="1015.5" y2="286.5" stroke="#2a55c4"/>
<rect x="1013" y="281.25" width="5" height="1.5" fill="url(#gb)"/>
<line x1="1022.5" y1="278" x2="1022.5" y2="284" stroke="#cf4a20"/>
<rect x="1020" y="278" width="5" height="6" fill="url(#go)"/>
<line x1="1028.5" y1="281.8" x2="1028.5" y2="286.9" stroke="#5a80d4"/>
<line x1="1026" y1="284.5" x2="1031" y2="284.5" stroke="#5a80d4"/>
<line x1="1035.5" y1="277" x2="1035.5" y2="282.75" stroke="#2a55c4"/>
<rect x="1033" y="278.4" width="5" height="4.35" fill="url(#gb)"/>
<line x1="1041.5" y1="269" x2="1041.5" y2="277.9" stroke="#2a55c4"/>
<rect x="1039" y="270" width="5" height="7.9" fill="url(#gb)"/>
<line x1="1048.5" y1="270.5" x2="1048.5" y2="276.6" stroke="#cf4a20"/>
<rect x="1046" y="271.3" width="5" height="3.4" fill="url(#go)"/>
<line x1="1054.5" y1="276.2" x2="1054.5" y2="282.75" stroke="#cf4a20"/>
<rect x="1052" y="276.2" width="5" height="6.55" fill="url(#go)"/>
<line x1="1061.5" y1="283.1" x2="1061.5" y2="292.9" stroke="#cf4a20"/>
<rect x="1059" y="283.1" width="5" height="9.8" fill="url(#go)"/>
<line x1="1067.5" y1="289.1" x2="1067.5" y2="295.7" stroke="#cf4a20"/>
<rect x="1065" y="293" width="5" height="1.75" fill="url(#go)"/>
<line x1="1074.5" y1="292.1" x2="1074.5" y2="297.75" stroke="#cf4a20"/>
<rect x="1072" y="294.75" width="5" height="1.85" fill="url(#go)"/>
<line x1="1080.5" y1="296.25" x2="1080.5" y2="300" stroke="#cf4a20"/>
<rect x="1078" y="298" width="5" height="2" fill="url(#go)"/>
<line x1="1087.5" y1="290.25" x2="1087.5" y2="300" stroke="#cf4a20"/>
<rect x="1085" y="297.6" width="5" height="2.4" fill="url(#go)"/>
<line x1="1093.5" y1="293.4" x2="1093.5" y2="301.9" stroke="#2a55c4"/>
<rect x="1091" y="294.75" width="5" height="4.25" fill="url(#gb)"/>
<line x1="1100.5" y1="292.1" x2="1100.5" y2="297.2" stroke="#cf4a20"/>
<rect x="1098" y="295" width="5" height="1.6" fill="url(#go)"/>
<line x1="1106.5" y1="293.4" x2="1106.5" y2="297.2" stroke="#cf4a20"/>
<rect x="1104" y="294" width="5" height="2.6" fill="url(#go)"/>
<line x1="1113.5" y1="286.3" x2="1113.5" y2="295.7" stroke="#2a55c4"/>
<rect x="1111" y="286.3" width="5" height="9.4" fill="url(#gb)"/>
<line x1="1120.5" y1="286.9" x2="1120.5" y2="290.6" stroke="#5a80d4"/>
<line x1="1118" y1="288.5" x2="1123" y2="288.5" stroke="#5a80d4"/>
<line x1="1126.5" y1="280.9" x2="1126.5" y2="286.9" stroke="#2a55c4"/>
<rect x="1124" y="281.9" width="5" height="4.7" fill="url(#gb)"/>
<line x1="1133.5" y1="280.3" x2="1133.5" y2="284.6" stroke="#5a80d4"/>
<line x1="1131" y1="282.5" x2="1136" y2="282.5" stroke="#5a80d4"/>
<line x1="1139.5" y1="280.3" x2="1139.5" y2="284.1" stroke="#5a80d4"/>
<line x1="1137" y1="282.5" x2="1142" y2="282.5" stroke="#5a80d4"/>
<line x1="1146.5" y1="273.1" x2="1146.5" y2="282.1" stroke="#2a55c4"/>
<rect x="1144" y="275.25" width="5" height="6.65" fill="url(#gb)"/>
<line x1="1152.5" y1="269.75" x2="1152.5" y2="275.6" stroke="#cf4a20"/>
<rect x="1150" y="272.5" width="5" height="1.9" fill="url(#go)"/>
<line x1="1159.5" y1="265.25" x2="1159.5" y2="273.1" stroke="#2a55c4"/>
<rect x="1157" y="267.25" width="5" height="5.25" fill="url(#gb)"/>
<line x1="1165.5" y1="264.4" x2="1165.5" y2="268.75" stroke="#5a80d4"/>
<line x1="1163" y1="266.5" x2="1168" y2="266.5" stroke="#5a80d4"/>
<line x1="1172.5" y1="262.25" x2="1172.5" y2="270.6" stroke="#2a55c4"/>
<rect x="1170" y="263.75" width="5" height="4.75" fill="url(#gb)"/>
<line x1="1178.5" y1="262.75" x2="1178.5" y2="273.4" stroke="#cf4a20"/>
<rect x="1176" y="262.75" width="5" height="10.65" fill="url(#go)"/>
<line x1="1185.5" y1="268.1" x2="1185.5" y2="275.6" stroke="#cf4a20"/>
<rect x="1183" y="270.6" width="5" height="3.8" fill="url(#go)"/>
<line x1="1191.5" y1="265.4" x2="1191.5" y2="273.75" stroke="#2a55c4"/>
<rect x="1189" y="267.25" width="5" height="6.15" fill="url(#gb)"/>
<line x1="1198.5" y1="265.6" x2="1198.5" y2="271.5" stroke="#cf4a20"/>
<rect x="1196" y="269.4" width="5" height="2.1" fill="url(#go)"/>
<line x1="112" y1="60.7" x2="1225" y2="269.2" stroke="#e60d0d" stroke-width="3" shape-rendering="crispEdges"/>
<line x1="982.4" y1="308.4" x2="1225" y2="291.4" stroke="#e60d0d" stroke-width="3" shape-rendering="crispEdges"/>
</g>
<rect x="1" y="437" width="5" height="35" fill="url(#go)"/>
<rect x="8" y="399.25" width="5" height="72.75" fill="url(#go)"/>
<rect x="14" y="432" width="5" height="40" fill="url(#gb)"/>
<rect x="21" y="439" width="5" height="33" fill="url(#go)"/>
<rect x="27" y="431" width="5" height="41" fill="url(#go)"/>
<rect x="34" y="437" width="5" height="35" fill="url(#gb)"/>
<rect x="40" y="439" width="5" height="33" fill="url(#gb)"/>
<rect x="47" y="443" width="5" height="29" fill="url(#gb)"/>
<rect x="53" y="420" width="5" height="52" fill="url(#go)"/>
<rect x="60" y="447" width="5" height="25" fill="url(#go)"/>
<rect x="66" y="451" width="5" height="21" fill="url(#gb)"/>
<rect x="73" y="437" width="5" height="35" fill="url(#go)"/>
<rect x="79" y="447" width="5" height="25" fill="url(#go)"/>
<rect x="86" y="427" width="5" height="45" fill="url(#go)"/>
<rect x="92" y="438" width="5" height="34" fill="url(#go)"/>
<rect x="99" y="430" width="5" height="42" fill="url(#gb)"/>
<rect x="105" y="448" width="5" height="24" fill="url(#go)"/>
<rect x="112" y="429" width="5" height="43" fill="url(#go)"/>
<rect x="119" y="442" width="5" height="30" fill="url(#gb)"/>
<rect x="125" y="440" width="5" height="32" fill="url(#go)"/>
<rect x="132" y="393" width="5" height="79" fill="url(#go)"/>
<rect x="138" y="413" width="5" height="59" fill="url(#go)"/>
<rect x="145" y="409" width="5" height="63" fill="url(#gb)"/>
<rect x="151" y="436" width="5" height="36" fill="url(#gb)"/>
<rect x="158" y="419" width="5" height="53" fill="url(#gb)"/>
<rect x="164" y="435" width="5" height="37" fill="url(#gb)"/>
<rect x="171" y="428" width="5" height="44" fill="url(#go)"/>
<rect x="177" y="441" width="5" height="31" fill="url(#gb)"/>
<rect x="184" y="441" width="5" height="31" fill="url(#go)"/>
<rect x="190" y="419" width="5" height="53" fill="url(#go)"/>
<rect x="197" y="401" width="5" height="71" fill="url(#go)"/>
<rect x="203" y="420" width="5" height="52" fill="url(#gb)"/>
<rect x="210" y="424" width="5" height="48" fill="url(#go)"/>
<rect x="216" y="441" width="5" height="31" fill="url(#gb)"/>
<rect x="223" y="448" width="5" height="24" fill="url(#go)"/>
<rect x="230" y="435" width="5" height="37" fill="url(#gb)"/>
<rect x="236" y="426" width="5" height="46" fill="url(#go)"/>
<rect x="243" y="427" width="5" height="45" fill="url(#go)"/>
<rect x="249" y="446" width="5" height="26" fill="url(#go)"/>
<rect x="256" y="444" width="5" height="28" fill="url(#gb)"/>
<rect x="262" y="453" width="5" height="19" fill="url(#go)"/>
<rect x="269" y="464" width="5" height="8" fill="url(#gb)"/>
<rect x="275" y="462" width="5" height="10" fill="url(#go)"/>
<rect x="282" y="455" width="5" height="17" fill="url(#go)"/>
<rect x="288" y="462" width="5" height="10" fill="url(#gb)"/>
<rect x="295" y="461" width="5" height="11" fill="url(#go)"/>
<rect x="301" y="432" width="5" height="40" fill="url(#gb)"/>
<rect x="308" y="420" width="5" height="52" fill="url(#gb)"/>
<rect x="314" y="445" width="5" height="27" fill="url(#gb)"/>
<rect x="321" y="443" width="5" height="29" fill="url(#go)"/>
<rect x="327" y="428" width="5" height="44" fill="url(#go)"/>
<rect x="334" y="437" width="5" height="35" fill="url(#go)"/>
<rect x="341" y="432" width="5" height="40" fill="url(#gb)"/>
<rect x="347" y="444" width="5" height="28" fill="url(#go)"/>
<rect x="354" y="435" width="5" height="37" fill="url(#go)"/>
<rect x="360" y="423" width="5" height="49" fill="url(#gb)"/>
<rect x="367" y="437" width="5" height="35" fill="url(#go)"/>
<rect x="373" y="416" width="5" height="56" fill="url(#go)"/>
<rect x="380" y="437" width="5" height="35" fill="url(#gb)"/>
<rect x="386" y="430" width="5" height="42" fill="url(#gb)"/>
<rect x="393" y="443" width="5" height="29" fill="url(#go)"/>
<rect x="399" y="438" width="5" height="34" fill="url(#go)"/>
<rect x="406" y="425" width="5" height="47" fill="url(#gb)"/>
<rect x="412" y="432" width="5" height="40" fill="url(#gb)"/>
<rect x="419" y="436" width="5" height="36" fill="url(#go)"/>
<rect x="425" y="438" width="5" height="34" fill="url(#gb)"/>
<rect x="432" y="429" width="5" height="43" fill="url(#go)"/>
<rect x="438" y="437" width="5" height="35" fill="url(#go)"/>
<rect x="445" y="419" width="5" height="53" fill="url(#go)"/>
<rect x="452" y="422" width="5" height="50" fill="url(#go)"/>
<rect x="458" y="413" width="5" height="59" fill="url(#gb)"/>
<rect x="465" y="410" width="5" height="62" fill="url(#gb)"/>
<rect x="471" y="433" width="5" height="39" fill="url(#go)"/>
<rect x="478" y="440" width="5" height="32" fill="url(#go)"/>
<rect x="484" y="441" width="5" height="31" fill="url(#go)"/>
<rect x="491" y="448" width="5" height="24" fill="url(#go)"/>
<rect x="497" y="450" width="5" height="22" fill="url(#gb)"/>
<rect x="504" y="449" width="5" height="23" fill="url(#gb)"/>
<rect x="510" y="441" width="5" height="31" fill="url(#gb)"/>
<rect x="517" y="442" width="5" height="30" fill="url(#go)"/>
<rect x="523" y="449" width="5" height="23" fill="url(#gb)"/>
<rect x="530" y="444" width="5" height="28" fill="url(#go)"/>
<rect x="536" y="439" width="5" height="33" fill="url(#gb)"/>
<rect x="543" y="440" width="5" height="32" fill="url(#gb)"/>
<rect x="549" y="433" width="5" height="39" fill="url(#gb)"/>
<rect x="556" y="440" width="5" height="32" fill="url(#go)"/>
<rect x="563" y="441" width="5" height="31" fill="url(#gb)"/>
<rect x="569" y="449" width="5" height="23" fill="url(#gb)"/>
<rect x="576" y="441" width="5" height="31" fill="url(#gb)"/>
<rect x="582" y="444" width="5" height="28" fill="url(#go)"/>
<rect x="589" y="430" width="5" height="42" fill="url(#gb)"/>
<rect x="595" y="444" width="5" height="28" fill="url(#go)"/>
<rect x="602" y="453" width="5" height="19" fill="url(#go)"/>
<rect x="608" y="449" width="5" height="23" fill="url(#gb)"/>
<rect x="615" y="449" width="5" height="23" fill="url(#go)"/>
<rect x="621" y="413" width="5" height="59" fill="url(#go)"/>
<rect x="628" y="420" width="5" height="52" fill="url(#go)"/>
<rect x="634" y="435" width="5" height="37" fill="url(#gb)"/>
<rect x="641" y="448" width="5" height="24" fill="url(#go)"/>
<rect x="647" y="433" width="5" height="39" fill="url(#gb)"/>
<rect x="654" y="433" width="5" height="39" fill="url(#gb)"/>
<rect x="660" y="418" width="5" height="54" fill="url(#gb)"/>
<rect x="667" y="447" width="5" height="25" fill="url(#go)"/>
<rect x="674" y="435" width="5" height="37" fill="url(#go)"/>
<rect x="680" y="445" width="5" height="27" fill="url(#go)"/>
<rect x="687" y="441" width="5" height="31" fill="url(#gb)"/>
<rect x="693" y="444" width="5" height="28" fill="url(#go)"/>
<rect x="700" y="431" width="5" height="41" fill="url(#go)"/>
<rect x="706" y="405" width="5" height="67" fill="url(#go)"/>
<rect x="713" y="431" width="5" height="41" fill="url(#gb)"/>
<rect x="719" y="408" width="5" height="64" fill="url(#gb)"/>
<rect x="726" y="443" width="5" height="29" fill="url(#go)"/>
<rect x="732" y="437" width="5" height="35" fill="url(#go)"/>
<rect x="739" y="424" width="5" height="48" fill="url(#gb)"/>
<rect x="745" y="434" width="5" height="38" fill="url(#go)"/>
<rect x="752" y="416" width="5" height="56" fill="url(#go)"/>
<rect x="758" y="368" width="5" height="104" fill="url(#gb)"/>
<rect x="765" y="428" width="5" height="44" fill="url(#go)"/>
<rect x="771" y="401" width="5" height="71" fill="url(#go)"/>
<rect x="778" y="405" width="5" height="67" fill="url(#go)"/>
<rect x="785" y="429" width="5" height="43" fill="url(#go)"/>
<rect x="791" y="378" width="5" height="94" fill="url(#go)"/>
<rect x="798" y="369" width="5" height="103" fill="url(#gb)"/>
<rect x="804" y="393" width="5" height="79" fill="url(#gb)"/>
<rect x="811" y="408" width="5" height="64" fill="url(#gb)"/>
<rect x="817" y="443" width="5" height="29" fill="url(#go)"/>
<rect x="824" y="422" width="5" height="50" fill="url(#go)"/>
<rect x="830" y="414" width="5" height="58" fill="url(#go)"/>
<rect x="837" y="422" width="5" height="50" fill="url(#gb)"/>
<rect x="843" y="428" width="5" height="44" fill="url(#go)"/>
<rect x="850" y="387" width="5" height="85" fill="url(#gb)"/>
<rect x="856" y="430" width="5" height="42" fill="url(#go)"/>
<rect x="863" y="447" width="5" height="25" fill="url(#gb)"/>
<rect x="869" y="453" width="5" height="19" fill="url(#go)"/>
<rect x="876" y="447" width="5" height="25" fill="url(#go)"/>
<rect x="882" y="438" width="5" height="34" fill="url(#go)"/>
<rect x="889" y="446" width="5" height="26" fill="url(#go)"/>
<rect x="896" y="440" width="5" height="32" fill="url(#gb)"/>
<rect x="902" y="451" width="5" height="21" fill="url(#go)"/>
<rect x="909" y="441" width="5" height="31" fill="url(#gb)"/>
<rect x="915" y="444" width="5" height="28" fill="url(#go)"/>
<rect x="922" y="360" width="5" height="112" fill="url(#gb)"/>
<rect x="928" y="427" width="5" height="45" fill="url(#go)"/>
<rect x="935" y="432" width="5" height="40" fill="url(#go)"/>
<rect x="941" y="450" width="5" height="22" fill="url(#go)"/>
<rect x="948" y="442" width="5" height="30" fill="url(#go)"/>
<rect x="954" y="441" width="5" height="31" fill="url(#gb)"/>
<rect x="961" y="425" width="5" height="47" fill="url(#gb)"/>
<rect x="967" y="438" width="5" height="34" fill="url(#go)"/>
<rect x="974" y="431" width="5" height="41" fill="url(#go)"/>
<rect x="980" y="436" width="5" height="36" fill="url(#gb)"/>
<rect x="987" y="444" width="5" height="28" fill="url(#gb)"/>
<rect x="993" y="444" width="5" height="28" fill="url(#gb)"/>
<rect x="1000" y="440" width="5" height="32" fill="url(#gb)"/>
<rect x="1007" y="436" width="5" height="36" fill="url(#gb)"/>
<rect x="1013" y="435" width="5" height="37" fill="url(#go)"/>
<rect x="1020" y="445" width="5" height="27" fill="url(#go)"/>
<rect x="1026" y="452" width="5" height="20" fill="url(#go)"/>
<rect x="1033" y="444" width="5" height="28" fill="url(#gb)"/>
<rect x="1039" y="449" width="5" height="23" fill="url(#gb)"/>
<rect x="1046" y="454" width="5" height="18" fill="url(#go)"/>
<rect x="1052" y="449" width="5" height="23" fill="url(#go)"/>
<rect x="1059" y="448" width="5" height="24" fill="url(#go)"/>
<rect x="1065" y="449" width="5" height="23" fill="url(#go)"/>
<rect x="1072" y="453" width="5" height="19" fill="url(#go)"/>
<rect x="1078" y="452" width="5" height="20" fill="url(#go)"/>
<rect x="1085" y="449" width="5" height="23" fill="url(#go)"/>
<rect x="1091" y="455" width="5" height="17" fill="url(#gb)"/>
<rect x="1098" y="461" width="5" height="11" fill="url(#go)"/>
<rect x="1104" y="465" width="5" height="7" fill="url(#go)"/>
<rect x="1111" y="458" width="5" height="14" fill="url(#gb)"/>
<rect x="1118" y="459" width="5" height="13" fill="url(#go)"/>
<rect x="1124" y="447" width="5" height="25" fill="url(#gb)"/>
<rect x="1131" y="453" width="5" height="19" fill="url(#gb)"/>
<rect x="1137" y="461" width="5" height="11" fill="url(#go)"/>
<rect x="1144" y="444" width="5" height="28" fill="url(#gb)"/>
<rect x="1150" y="454" width="5" height="18" fill="url(#gb)"/>
<rect x="1157" y="441" width="5" height="31" fill="url(#gb)"/>
<rect x="1163" y="452" width="5" height="20" fill="url(#gb)"/>
<rect x="1170" y="452" width="5" height="20" fill="url(#gb)"/>
<rect x="1176" y="448" width="5" height="24" fill="url(#go)"/>
<rect x="1183" y="457" width="5" height="15" fill="url(#go)"/>
<rect x="1189" y="452" width="5" height="20" fill="url(#gb)"/>
<rect x="1196" y="454" width="5" height="18" fill="url(#go)"/>
<line x1="2.5" y1="540.5" x2="1226.5" y2="540.5" stroke="#c9623a" stroke-width="1.1"/>
<polyline fill="none" stroke="#e0a04c" stroke-width="1" stroke-linejoin="round" shape-rendering="crispEdges" points="3,494 10,498.25 20,505.25 30,514.5 45,524.5 62.5,533.25 77.5,538.25 85,542.75 100,552 117.5,562 132.5,570.75 147.5,582 160,588.75 175,591.25 187.5,591.5 200,595 212.5,598.75 225,601.25 237.5,601.25 250,601.5 260,600 275,595.25 287.5,592 300,585.75 312.5,578.25 320,573.25 330,567.75 340,565.25 350,564 360,565 372.5,568.25 385,572 397.5,575.25 410,579 422.5,579.5 435,578.75 447.5,580.75 460,584 472.5,586.5 490,587 505,587 517.5,582.75 530,579.5 542.5,576.25 555,570.25 567.5,563.25 577.5,557 590,547 600,539.5 610,533.25 620,529.75 627.5,528.75 637.5,528.25 647.5,529 657.5,529.5 670,528.75 682.5,528.25 695,528.5 707.5,532 720,537 732.5,539.5 745,542 757.5,544.5 770,547.75 782.5,553.75 795,562 807.5,569.5 820,572.75 832.5,577 845,582 857.5,585.25 870,585 882.5,585.75 895,586.5 907.5,588.25 920,590.25 932.5,590.75 942.5,590.25 955,590.25 967.5,589.5 980,591.5 992.5,592.75 1005,591.5 1017.5,587.75 1030,583.25 1042.5,577 1055,571.25 1067.5,568.25 1080,567 1092.5,567.5 1105,567.5 1117.5,565.75 1130,562 1142.5,557.5 1155,552 1167.5,545.25 1180,540 1190,537.5 1198.75,535.25"/>
<polyline fill="none" stroke="#1f8048" stroke-width="1" stroke-linejoin="round" shape-rendering="crispEdges" points="3,505.25 10,513.25 20,524.5 30,535.75 37.5,539 46.25,540.75 56.25,541.25 62.5,544.5 70,545.75 80,550.75 92.5,563.25 107.5,570.75 115,577.5 127.5,582 135,587.5 140,596.25 153,606.25 167,594.5 175,593.25 178.75,590.75 186.25,590.25 192.5,597 199.25,605 212.5,606.25 226.25,605 237.5,600 250,600.5 262.5,593.75 275,587.5 287.5,582 297.5,578.25 310,565.5 317.5,557 323.75,554 330,555.25 336.25,558.25 342.5,558.25 350,562 356.25,565.75 363.75,569.5 372.5,577 381.25,580.25 387.5,579 395,579.5 402.5,583.75 407.5,585.25 415,582 421.25,581.25 427.5,578.75 433.75,577.5 440,580 446.25,583.25 455,591.5 460,592.75 466.25,590 472.5,587.5 488.75,587 493.75,588.25 501.25,585.75 508.75,580.75 516.25,575.75 523.75,573.25 532.5,573.25 538.75,571.25 545,567 551.25,559.5 560,552.5 566.25,547 572.5,540.75 581.25,534.5 590,528.25 598.75,523.25 607.5,520.75 615,519 621.25,520 632.5,525 645,530.75 655,532 665,527 672.5,525.75 681.25,528.25 691.25,528.75 701.25,534.5 708.75,543.75 715,545.25 721.25,543.25 727.5,544.5 735,546.25 747.5,547 755,550 767.5,553.75 775,560.75 786.25,567.75 793.75,579.5 801.25,585.25 812.5,580.75 820,578.25 826.25,581.25 832.5,587 838.75,590.25 845,594.5 853.75,590 863.75,585.75 870,584.5 880,587 888.75,588.25 898.75,588.75 905,591.25 912.5,591.5 918.75,593.25 925,593.25 932.5,592 940,590.5 950,591.25 957.5,589.5 963.75,587.5 970,590 977.5,594 983.75,596.25 990,595 1001.25,590.75 1012.5,582 1023.75,576.5 1033.75,571.5 1041.25,564.5 1048.75,561.25 1056.25,560.25 1065,562.5 1075,565.75 1085,567 1095,567.5 1106.25,566.25 1116.25,561.25 1127.5,555.25 1140,549 1153.75,542 1162.5,535 1170,531.25 1177.5,530 1185,531.5 1192.5,529.5 1198.75,529.5"/>
<line x1="2.5" y1="662.5" x2="1226.5" y2="662.5" stroke="#d0622e" stroke-width="1.1"/>
<line x1="2.5" y1="728.5" x2="1226.5" y2="728.5" stroke="#d0622e" stroke-width="1.1"/>
<polyline fill="none" stroke="#e0a04c" stroke-width="1" stroke-linejoin="round" shape-rendering="crispEdges" points="3.51,737 10.04,738.4 16.57,735.25 23.1,727.5 29.63,724.37 36.16,725.32 42.69,722.63 49.22,704.52 55.74,684.07 62.27,673.43 68.8,681.55 75.33,698.1 81.86,714.53 88.39,727.67 94.92,735.5 101.45,735.63 107.98,732.63 114.51,730.93 121.04,731.57 127.57,731.13 134.1,725.83 140.63,726 147.15,726.6 153.68,729.1 160.21,718.3 166.74,698.63 173.27,675.75 179.8,665.75 186.33,673.25 192.86,695 199.39,718.75 205.92,731.88 212.45,732.05 218.98,719.43 225.51,709.43 232.04,697.2 238.56,692.32 245.09,688.88 251.62,701.25 258.15,706.25 264.68,704.68 271.21,685.32 277.74,675.93 284.27,674.05 290.8,683.75 297.33,695.02 303.86,697.52 310.39,687.52 316.92,667.52 323.45,657.83 329.98,666.57 336.5,690.3 343.03,716.23 349.56,732.5 356.09,738.77 362.62,736.9 369.15,733.27 375.68,727.63 382.21,724.8 388.74,715.93 395.27,703.57 401.8,693.57 408.33,697 414.86,704.67 421.39,704.37 427.91,690.8 434.44,680.2 440.97,683.95 447.5,703.75 454.03,727.35 460.56,737.1 467.09,732.3 473.62,713.37 480.15,695.62 486.68,686.98 493.21,692.62 499.74,705.12 506.27,709.5 512.8,700.13 519.32,682.95 525.85,671.7 532.38,677 538.91,689.5 545.44,697.93 551.97,686.37 558.5,668.55 565.03,652.92 571.56,648.55 578.09,648.1 584.62,649.55 591.15,652.35 597.68,656.42 604.21,660.92 610.73,668.42 617.26,677.48 623.79,689.37 630.32,706.23 636.85,719.37 643.38,727.37 649.91,722.37 656.44,713.6 662.97,694.03 669.5,673.93 676.03,660.83 682.56,667.4 689.09,685.83 695.62,708.3 702.15,723.92 708.67,733.12 715.2,731.25 721.73,718.43 728.26,699.67 734.79,685.43 741.32,682.63 747.85,688.57 754.38,698.43 760.91,710.6 767.44,720.3 773.97,728.12 780.5,733.88 787.03,739.32 793.56,741.5 800.08,741.07 806.61,732.5 813.14,716.87 819.67,693.3 826.2,680.8 832.73,685.5 839.26,705.43 845.79,724.37 852.32,728.73 858.85,721.1 865.38,700.3 871.91,686.57 878.44,683.13 884.97,697.82 891.49,715.82 898.02,725.52 904.55,727.7 911.08,722.7 917.61,724.9 924.14,722.72 930.67,721.58 937.2,710.12 943.73,705.43 950.26,705.43 956.79,714.9 963.32,718.63 969.85,720.07 976.38,722.37 982.9,730.82 989.43,734.05 995.96,726.55 1002.49,708.43 1009.02,688.13 1015.55,669.87 1022.08,660.8 1028.61,662.68 1035.14,670.62 1041.67,673.12 1048.2,668.73 1054.73,669.07 1061.26,683.75 1067.79,710.95 1074.32,733.45 1080.84,745.5 1087.37,747.23 1093.9,742.23 1100.43,730.5 1106.96,710.95 1113.49,690.32 1120.02,672.58 1126.55,658.93 1133.08,652.53 1139.61,650.33 1146.14,652.4 1152.67,654.2 1159.2,655.23 1165.73,656.1 1172.25,655.03 1178.78,659.87 1185.31,672.67 1191.84,694.33 1198.37,709"/>
<polyline fill="none" stroke="#461c94" stroke-width="1" stroke-linejoin="round" shape-rendering="crispEdges" points="3.51,743.5 10.04,737.5 16.57,724.75 23.1,720.25 29.63,728.1 36.16,727.6 42.69,712.2 49.22,673.75 55.74,666.25 62.27,680.3 68.8,698.1 75.33,715.9 81.86,729.6 88.39,737.5 94.92,739.4 101.45,730 107.98,728.5 114.51,734.3 121.04,731.9 127.57,727.2 134.1,718.4 140.63,732.4 147.15,729 153.68,725.9 160.21,700 166.74,670 173.27,657.25 179.8,670 186.33,692.5 192.86,722.5 199.39,741.25 205.92,731.9 212.45,723 218.98,703.4 225.51,701.9 232.04,686.3 238.56,688.75 245.09,691.6 251.62,723.4 258.15,703.75 264.68,686.9 271.21,665.3 277.74,675.6 284.27,681.25 290.8,694.4 297.33,709.4 303.86,688.75 310.39,664.4 316.92,649.4 323.45,659.7 329.98,690.6 336.5,720.6 343.03,737.5 349.56,739.4 356.09,739.4 362.62,731.9 369.15,728.5 375.68,722.5 382.21,723.4 388.74,701.9 395.27,685.4 401.8,693.4 408.33,712.2 414.86,708.4 421.39,692.5 427.91,671.5 434.44,676.6 440.97,703.75 447.5,730.9 454.03,747.4 460.56,733 467.09,716.5 473.62,690.6 480.15,679.75 486.68,690.6 493.21,707.5 499.74,717.25 506.27,703.75 512.8,679.4 519.32,665.7 525.85,670 532.38,695.3 538.91,703.2 545.44,695.3 551.97,660.6 558.5,649.75 565.03,648.4 571.56,647.5 578.09,648.4 584.62,652.75 591.15,655.9 597.68,660.6 604.21,666.25 610.73,678.4 617.26,687.8 623.79,701.9 630.32,729 636.85,727.2 643.38,725.9 649.91,714 656.44,700.9 662.97,667.2 669.5,653.7 676.03,661.6 682.56,686.9 689.09,709 695.62,729 702.15,733.75 708.67,736.6 715.2,723.4 721.73,695.3 728.26,680.3 734.79,680.7 741.32,686.9 747.85,698.1 754.38,710.3 760.91,723.4 767.44,727.2 773.97,733.75 780.5,740.7 787.03,743.5 793.56,740.3 800.08,739.4 806.61,717.8 813.14,693.4 819.67,668.7 826.2,680.3 832.73,707.5 839.26,728.5 845.79,737.1 852.32,720.6 858.85,705.6 865.38,674.7 871.91,679.4 878.44,695.3 884.97,718.75 891.49,733.4 898.02,724.4 904.55,725.3 911.08,718.4 917.61,731 924.14,718.75 930.67,715 937.2,696.6 943.73,704.7 950.26,715 956.79,725 963.32,715.9 969.85,719.3 976.38,731.9 982.9,741.25 989.43,729 995.96,709.4 1002.49,686.9 1009.02,668.1 1015.55,654.6 1022.08,659.7 1028.61,673.75 1035.14,678.4 1041.67,667.2 1048.2,660.6 1054.73,679.4 1061.26,711.25 1067.79,742.2 1074.32,746.9 1080.84,747.4 1087.37,747.4 1093.9,731.9 1100.43,712.2 1106.96,688.75 1113.49,670 1120.02,659 1126.55,647.8 1133.08,650.8 1139.61,652.4 1146.14,654 1152.67,656.2 1159.2,655.5 1165.73,656.6 1172.25,653 1178.78,670 1185.31,695 1191.84,718 1198.37,714"/>
<line x1="310.5" y1="633" x2="310.5" y2="702" stroke="#d42020" stroke-width="1.2"/>
<rect x="3" y="41" width="136" height="13.8" fill="#575757"/>
<text transform="translate(43,51.5) matrix(1,0.0005,0,1,0,0)" font-size="10" fill="#fff" textLength="55" lengthAdjust="spacingAndGlyphs">Παρ 23 Ιουλ</text>
<rect x="12" y="54.6" width="99.5" height="13.6" fill="#fafaf6"/>
<text transform="translate(14,65) matrix(1,0.0005,0,1,0,0)" font-size="10" fill="#111" textLength="95.5" lengthAdjust="spacingAndGlyphs">1.904,1099 Me(200)</text>
<rect x="5" y="58.6" width="5" height="5" fill="#111"/>
<rect x="12" y="68.5" width="99.5" height="13.6" fill="#fafaf6"/>
<text transform="translate(14,78.9) matrix(1,0.0005,0,1,0,0)" font-size="10" fill="#4e1414" textLength="95.5" lengthAdjust="spacingAndGlyphs">1.712,1882 Me(100)</text>
<rect x="5" y="72.5" width="5" height="5" fill="#8e3b3b"/>
<rect x="12" y="82.5" width="124" height="13.6" fill="#fafaf6"/>
<text transform="translate(14,92.9) matrix(1,0.0005,0,1,0,0)" font-size="10" fill="#46689c" textLength="50.5" lengthAdjust="spacingAndGlyphs">1.590,5 ΓΔ</text>
<text transform="translate(69,92.9) matrix(1,0.0005,0,1,0,0)" font-size="10" fill="#d0663e" textLength="66" lengthAdjust="spacingAndGlyphs">-21,88 -1,36 %</text>
<rect x="5" y="86.5" width="5" height="5" fill="#5b8edb"/>
<rect x="12" y="96.5" width="94" height="13.6" fill="#fafaf6"/>
<text transform="translate(14,106.9) matrix(1,0.0005,0,1,0,0)" font-size="10" fill="#5a3e0c" textLength="90" lengthAdjust="spacingAndGlyphs">1.587,3816 Me(50)</text>
<rect x="5" y="100.5" width="5" height="5" fill="#9a6a14"/>
<rect x="12" y="110.5" width="86" height="13.6" fill="#fafaf6"/>
<text transform="translate(14,120.9) matrix(1,0.0005,0,1,0,0)" font-size="10" fill="#46689c" textLength="82" lengthAdjust="spacingAndGlyphs">1.597,01 Ανοιγμα</text>
<rect x="12" y="124.5" width="85" height="13.6" fill="#fafaf6"/>
<text transform="translate(14,134.9) matrix(1,0.0005,0,1,0,0)" font-size="10" fill="#46689c" textLength="81" lengthAdjust="spacingAndGlyphs">1.626,95 Μέγιστο</text>
<rect x="12" y="138.5" width="88" height="13.6" fill="#fafaf6"/>
<text transform="translate(14,148.9) matrix(1,0.0005,0,1,0,0)" font-size="10" fill="#46689c" textLength="84" lengthAdjust="spacingAndGlyphs">1.585,76 Ελάχιστο</text>
<line x1="10.5" y1="77" x2="10.5" y2="88" stroke="#6f8fd0"/>
<line x1="3" y1="82.3" x2="91" y2="82.3" stroke="#8f6a14" stroke-width="1"/>
<rect x="53" y="67.4" width="5" height="1.3" fill="#e8562a"/>
<rect x="34" y="80.80000000000001" width="5" height="1.3" fill="#3566dc"/>
<rect x="40" y="80.80000000000001" width="4" height="1.3" fill="#3566dc"/>
<rect x="73" y="81.0" width="5" height="1.3" fill="#e8562a"/>
<rect x="86" y="95.0" width="5" height="1.3" fill="#e8562a"/>
<rect x="5" y="342.5" width="5" height="5" fill="#5b8edb"/>
<text transform="translate(14,349) matrix(1,0.0005,0,1,0,0)" font-size="10" fill="#46689c" textLength="79" lengthAdjust="spacingAndGlyphs">14,93 εκ Volume</text>
<rect x="13" y="478.5" width="117" height="12" fill="#fafaf6" fill-opacity="0.9"/>
<rect x="13" y="492" width="85" height="12" fill="#fafaf6" fill-opacity="0.9"/>
<rect x="5" y="482" width="5" height="5" fill="#1f8a4c"/>
<text transform="translate(14,488) matrix(1,0.0005,0,1,0,0)" font-size="10" fill="#1c6e3c" textLength="114" lengthAdjust="spacingAndGlyphs">18,2598 MACD(12,26,9)</text>
<rect x="5" y="495.5" width="5" height="5" fill="#e09a30"/>
<text transform="translate(14,502) matrix(1,0.0005,0,1,0,0)" font-size="10" fill="#c8822c" textLength="82" lengthAdjust="spacingAndGlyphs">7,8848 Trigger(9)</text>
<rect x="5" y="621" width="5" height="5" fill="#dba040"/>
<text transform="translate(14,627) matrix(1,0.0005,0,1,0,0)" font-size="10" fill="#c8902c" textLength="77" lengthAdjust="spacingAndGlyphs">35,7689 Slow(3)</text>
<rect x="5" y="635" width="5" height="5" fill="#4a1a9a"/>
<text transform="translate(14,641) matrix(1,0.0005,0,1,0,0)" font-size="10" fill="#2a1060" textLength="90" lengthAdjust="spacingAndGlyphs">33,1429 StO(5,3,3)</text>
<text transform="translate(1230.5,93) matrix(1,0.0005,0,1,0,0)" font-size="10" fill="#555" textLength="25.5" lengthAdjust="spacingAndGlyphs">2.600</text>
<text transform="translate(1230.5,129) matrix(1,0.0005,0,1,0,0)" font-size="10" fill="#555" textLength="25.5" lengthAdjust="spacingAndGlyphs">2.400</text>
<text transform="translate(1230.5,165) matrix(1,0.0005,0,1,0,0)" font-size="10" fill="#555" textLength="25.5" lengthAdjust="spacingAndGlyphs">2.200</text>
<text transform="translate(1230.5,201) matrix(1,0.0005,0,1,0,0)" font-size="10" fill="#555" textLength="25.5" lengthAdjust="spacingAndGlyphs">2.000</text>
<text transform="translate(1230.5,237) matrix(1,0.0005,0,1,0,0)" font-size="10" fill="#555" textLength="25.5" lengthAdjust="spacingAndGlyphs">1.800</text>
<text transform="translate(1230.5,309) matrix(1,0.0005,0,1,0,0)" font-size="10" fill="#555" textLength="25.5" lengthAdjust="spacingAndGlyphs">1.400</text>
<text transform="translate(1230.5,382) matrix(1,0.0005,0,1,0,0)" font-size="10" fill="#555" textLength="25" lengthAdjust="spacingAndGlyphs">75 εκ</text>
<text transform="translate(1230.5,413) matrix(1,0.0005,0,1,0,0)" font-size="10" fill="#555" textLength="25" lengthAdjust="spacingAndGlyphs">50 εκ</text>
<text transform="translate(1230.5,445) matrix(1,0.0005,0,1,0,0)" font-size="10" fill="#555" textLength="25" lengthAdjust="spacingAndGlyphs">25 εκ</text>
<text transform="translate(1230.5,512) matrix(1,0.0005,0,1,0,0)" font-size="10" fill="#555" textLength="11.5" lengthAdjust="spacingAndGlyphs">50</text>
<text transform="translate(1230.5,577) matrix(1,0.0005,0,1,0,0)" font-size="10" fill="#555" textLength="15.5" lengthAdjust="spacingAndGlyphs">-50</text>
<text transform="translate(1230.5,609) matrix(1,0.0005,0,1,0,0)" font-size="10" fill="#555" textLength="21" lengthAdjust="spacingAndGlyphs">-100</text>
<text transform="translate(1230.5,699) matrix(1,0.0005,0,1,0,0)" font-size="10" fill="#555" textLength="11.5" lengthAdjust="spacingAndGlyphs">50</text>
<text transform="translate(15.5,332) matrix(1,0.0005,0,1,0,0)" font-size="10" fill="#555" textLength="17.5" lengthAdjust="spacingAndGlyphs">Νοε</text>
<text transform="translate(153.5,332) matrix(1,0.0005,0,1,0,0)" font-size="10" fill="#555" textLength="17" lengthAdjust="spacingAndGlyphs">Δεκ</text>
<text transform="translate(285,332) matrix(1,0.0005,0,1,0,0)" font-size="10" fill="#555" textLength="24" lengthAdjust="spacingAndGlyphs">2010</text>
<text transform="translate(413,332) matrix(1,0.0005,0,1,0,0)" font-size="10" fill="#555" textLength="18" lengthAdjust="spacingAndGlyphs">Φεβ</text>
<text transform="translate(536,332) matrix(1,0.0005,0,1,0,0)" font-size="10" fill="#555" textLength="20" lengthAdjust="spacingAndGlyphs">Μαρ</text>
<text transform="translate(680,332) matrix(1,0.0005,0,1,0,0)" font-size="10" fill="#555" textLength="20" lengthAdjust="spacingAndGlyphs">Απρ</text>
<text transform="translate(812,332) matrix(1,0.0005,0,1,0,0)" font-size="10" fill="#555" textLength="17" lengthAdjust="spacingAndGlyphs">Μαι</text>
<text transform="translate(941,332) matrix(1,0.0005,0,1,0,0)" font-size="10" fill="#555" textLength="20" lengthAdjust="spacingAndGlyphs">Ιουν</text>
<g clip-path="url(#cpAll)">
<rect x="1229" y="209.45" width="52" height="10.5" fill="#0c0c0c"/><path d="M1229.2 211.7 L1226.4 214.7 L1229.2 217.7 Z" fill="#0c0c0c"/><text transform="translate(1232.5,218.2) matrix(1,0.0005,0,1,0,0)" font-size="10" fill="#fff" textLength="54" lengthAdjust="spacingAndGlyphs">1.904,1099</text>
<rect x="1229" y="244.25" width="52" height="10.5" fill="#8e3838"/><path d="M1229.2 246.5 L1226.4 249.5 L1229.2 252.5 Z" fill="#8e3838"/><text transform="translate(1232.5,253) matrix(1,0.0005,0,1,0,0)" font-size="10" fill="#fff" textLength="54" lengthAdjust="spacingAndGlyphs">1.712,1882</text>
<rect x="1229" y="266.55" width="52" height="10.5" fill="#9a6a14"/><path d="M1229.2 268.8 L1226.4 271.8 L1229.2 274.8 Z" fill="#9a6a14"/><text transform="translate(1232.5,275.3) matrix(1,0.0005,0,1,0,0)" font-size="10" fill="#fff" textLength="54" lengthAdjust="spacingAndGlyphs">1.587,3816</text>
<rect x="1229" y="266.15" width="41.5" height="10.5" fill="#5b8edb"/><path d="M1229.2 268.4 L1226.4 271.4 L1229.2 274.4 Z" fill="#5b8edb"/><text transform="translate(1232.5,274.9) matrix(1,0.0005,0,1,0,0)" font-size="10" fill="#fff" textLength="35" lengthAdjust="spacingAndGlyphs">1.590,5</text>
<rect x="1229" y="449.25" width="46" height="10.5" fill="#5b8edb"/><path d="M1229.2 451.5 L1226.4 454.5 L1229.2 457.5 Z" fill="#5b8edb"/><text transform="translate(1232.5,458) matrix(1,0.0005,0,1,0,0)" font-size="10" fill="#fff" textLength="39" lengthAdjust="spacingAndGlyphs">14,93 εκ</text>
<rect x="1229" y="530.1" width="39" height="10.6" fill="#e8a040"/><path d="M1229.2 532.4 L1226.4 535.4 L1229.2 538.4 Z" fill="#e8a040"/><text transform="translate(1232.5,538.9) matrix(1,0.0005,0,1,0,0)" font-size="10" fill="#fff" textLength="32" lengthAdjust="spacingAndGlyphs">7,8848</text>
<rect x="1229" y="524.1" width="45" height="10.6" fill="#1f8a4c"/><path d="M1229.2 526.4 L1226.4 529.4 L1229.2 532.4 Z" fill="#1f8a4c"/><text transform="translate(1232.5,532.9) matrix(1,0.0005,0,1,0,0)" font-size="10" fill="#fff" textLength="38" lengthAdjust="spacingAndGlyphs">18,2598</text>
<rect x="1229" y="705.95" width="44.5" height="10.5" fill="#e89838"/><path d="M1229.2 708.2 L1226.4 711.2 L1229.2 714.2 Z" fill="#e89838"/><text transform="translate(1232.5,714.7) matrix(1,0.0005,0,1,0,0)" font-size="10" fill="#fff" textLength="38" lengthAdjust="spacingAndGlyphs">35,7689</text>
<rect x="1229" y="709.45" width="44.5" height="10.5" fill="#55189c"/><path d="M1229.2 711.7 L1226.4 714.7 L1229.2 717.7 Z" fill="#55189c"/><text transform="translate(1232.5,718.2) matrix(1,0.0005,0,1,0,0)" font-size="10" fill="#fff" textLength="38" lengthAdjust="spacingAndGlyphs">33,1429</text>
</g>
<path d="M1270.2 341.7 l5.6 5.6 m0 -5.6 l-5.600 5.600" stroke="#808080" stroke-width="1.300" fill="none"/>
<path d="M1270.2 480.7 l5.6 5.6 m0 -5.6 l-5.600 5.600" stroke="#808080" stroke-width="1.300" fill="none"/>
<path d="M1270.2 619.7 l5.6 5.6 m0 -5.6 l-5.600 5.600" stroke="#808080" stroke-width="1.300" fill="none"/>
</svg>
<div id="scroll"><div class="thumb"></div><div class="la"><svg width="14" height="14"><path d="M8.500 3.500 L4.500 7.500 L8.500 11.500 Z" fill="#555"/></svg></div><div class="ra"><svg width="14" height="14"><path d="M5 3.500 L9 7.500 L5 11.500 Z" fill="#444"/></svg></div></div>
<svg style="position:absolute;left:1228px;top:754px" width="52" height="16" viewBox="0 0 52 16">
  <circle cx="9.500" cy="7.500" r="5.500" fill="#f6f6f4" stroke="#9a9a9a" stroke-width="1.100"/><path d="M6.500 7.500 h6" stroke="#777" stroke-width="1.200"/>
  <circle cx="26" cy="7.500" r="5.500" fill="#f6f6f4" stroke="#9a9a9a" stroke-width="1.100"/><path d="M23 7.500 h6 M26 4.500 v6" stroke="#777" stroke-width="1.200"/>
  <path d="M37.500 4 v7 M48.500 4 v7 M37.500 7.500 h11" stroke="#777" stroke-width="1.200" fill="none"/>
</svg>
<div id="taskbar">
  <svg style="position:absolute;left:8px;top:-5px" width="46" height="35" viewBox="0 0 46 35">
    <defs><linearGradient id="orb" x1="0" x2="0" y1="0" y2="1"><stop offset="0" stop-color="#9db0c6"/><stop offset="0.42" stop-color="#5d7fa4"/><stop offset="0.5" stop-color="#1c59ae"/><stop offset="0.8" stop-color="#1a6cc8"/><stop offset="1" stop-color="#2aa6e6"/></linearGradient></defs>
    <circle cx="22.500" cy="20.500" r="20" fill="#0b1322"/>
    <circle cx="22.500" cy="20.500" r="19.300" fill="none" stroke="#55637a" stroke-width="1"/>
    <circle cx="22.500" cy="20.500" r="17.800" fill="url(#orb)"/>
    <path d="M13.500 8.500 q5 -3 9.500 -0.500 l-1.800 8.500 q-4.500 -2.300 -9.300 0.300 z" fill="#e8582a"/>
    <path d="M24.500 9.500 q4.500 2.500 9 -0.800 l-1.800 8.800 q-4.500 3 -9 0.500 z" fill="#86c23c"/>
    <path d="M11 18.500 q5 -2.800 9.500 -0.300 l-1.800 8.300 q-4.500 -2.400 -9.400 0.300 z" fill="#3a94dc"/>
    <path d="M22 20 q4.500 2.500 9 -0.700 l-1.800 8.700 q-4.500 3 -9 0.500 z" fill="#f6c22c"/>
  </svg>
  <div class="ql" style="left:64px;background:#f49a1c;border:2px solid #3a8edc"><svg width="12" height="12"><path d="M4 2.500 L9.500 6 L4 9.500 Z" fill="#fff"/></svg></div>
  <div class="ql" style="left:88px;background:#f4f4f4"><svg width="16" height="16"><text x="3" y="13" font-size="13" font-weight="bold" font-style="italic" fill="#2a7ad8" font-family="Liberation Serif, serif">e</text><path d="M1 10 Q8 2 15 5" stroke="#f4b428" stroke-width="1.6" fill="none"/></svg></div>
  <div class="ql" style="left:111px;background:#f8c880;border:1px solid #c87a1c"><svg width="14" height="14"><circle cx="7" cy="7" r="4.500" fill="#fff4dc" stroke="#b86a14" stroke-width="1.2"/><path d="M7 4.500 V7 H9" stroke="#b86a14" stroke-width="1" fill="none"/></svg></div>
  <div class="ql" style="left:134px;background:#8cc63a"><svg width="16" height="16"><path d="M11 3 A6 6 0 0 0 11 13 M13 5 A4 4 0 0 0 13 11" stroke="#fff" stroke-width="1.500" fill="none"/></svg></div>
  <div class="ql" style="left:157px;top:8px;height:14px;background:#1c4a9c;border:1px solid #c8d8f0"><svg width="14" height="12"><rect x="2" y="2" width="6" height="4" fill="#fff"/><rect x="6" y="6" width="6" height="4" fill="#dfe8f8"/></svg></div>
  <div class="ql" style="left:180px;top:8px;height:14px;background:#2a62b8;border:1px solid #d4dcec"><svg width="14" height="12"><rect x="2" y="9" width="8" height="1.500" fill="#9ec4f0"/></svg></div>
  <svg class="ql" style="left:203px" width="16" height="16" viewBox="0 0 16 16"><circle cx="8" cy="8" r="7.500" fill="#e8c020"/><path d="M8 8 L1.500 4.200 A7.500 7.500 0 0 1 14.500 4.200 Z" fill="#dc3a2a"/><path d="M8 8 L1.500 4.200 A7.500 7.500 0 0 0 8 15.500 Z" fill="#3cae48"/><circle cx="8" cy="8" r="3.400" fill="#fff"/><circle cx="8" cy="8" r="2.600" fill="#3a82e0"/></svg>
  <div class="ql" style="left:226px;background:#4a4a4a"><svg width="16" height="16"><text x="3" y="13" font-size="13" fill="#fff">♪</text><path d="M13 3 Q16 8 13 13" stroke="#ddd" stroke-width="1.200" fill="none"/></svg></div>
  <div class="ql" style="left:249px;background:#1010c0"><svg width="16" height="16"><path d="M2 13 Q3 4 14 3" stroke="#fff" stroke-width="2" fill="none"/></svg></div>

  <div class="tb" style="left:467px;width:145px"><em><svg width="18" height="18"><text x="3" y="14" font-size="15" font-weight="bold" font-style="italic" fill="#4aa0f0" font-family="Liberation Serif, serif">e</text><path d="M1 11 Q8 2 16 5" stroke="#f4c030" stroke-width="1.600" fill="none"/></svg></em><span>5 Internet Explorer</span><b></b></div>
  <div class="tb act" style="left:616px;width:145px"><em style="background:#eef0f4"><svg width="16" height="16"><path d="M4 12 h8 M5 14 h6" stroke="#3a62a8" stroke-width="1.200"/><path d="M8 2 q-3 3 0 5 q2 2 -1 4" stroke="#e05a1c" stroke-width="1.200" fill="none"/></svg></em><span>17 Java(TM) Pla...</span><b></b></div>
  <div class="tb" style="left:765px;width:146px"><em style="background:#eef0f4"><svg width="16" height="16"><path d="M4 12 h8 M5 14 h6" stroke="#3a62a8" stroke-width="1.200"/><path d="M8 2 q-3 3 0 5 q2 2 -1 4" stroke="#e05a1c" stroke-width="1.200" fill="none"/></svg></em><span>2 Java(TM) Platf...</span><b></b></div>
  <div class="tb" style="left:915px;width:146px"><em style="background:#e8eef8;border:1px solid #9ab0d8"><svg width="14" height="14"><rect x="0" y="2" width="9" height="9" fill="#2a58b0"/><text x="1" y="10" font-size="9" font-weight="bold" fill="#fff">W</text></svg></em><span>daily 07072010 - ...</span></div>
  <div id="tray">
    <span style="left:3px;top:6px">EL</span>
    <svg style="position:absolute;left:30px;top:6px" width="180" height="18" viewBox="0 0 180 18">
      <path d="M8.500 4.500 L4.500 8.500 L8.500 12.500" stroke="#fff" stroke-width="1.800" fill="none"/>
      <g><circle cx="24" cy="7" r="2" fill="#f4e080"/><path d="M24 8 v8" stroke="#f4e080" stroke-width="1.500"/><path d="M20 3 a5.500 5.500 0 0 0 0 8 M28 3 a5.500 5.500 0 0 1 0 8" stroke="#e0d070" stroke-width="1.200" fill="none"/></g>
      <rect x="34" y="3" width="12" height="9" fill="#a8a8a8" stroke="#e0e0e0" stroke-width="1"/><rect x="36" y="13" width="9" height="2" fill="#c8c8c8"/>
      <rect x="52" y="2" width="14" height="14" rx="2" fill="#d01028"/><text x="54" y="14" font-size="13" font-weight="bold" fill="#fff">M</text>
      <rect x="82" y="3" width="7" height="12" rx="1" fill="#d8e8c0" stroke="#fff" stroke-width="0.800"/><rect x="83.500" y="7" width="4" height="7" fill="#5cb03a"/><path d="M91 6 v6" stroke="#ddd" stroke-width="1.500"/>
      <rect x="98" y="3" width="9" height="7" fill="#3a8ae0" stroke="#e8f0fa" stroke-width="1"/><rect x="102" y="8" width="9" height="7" fill="#2a6ac8" stroke="#e8f0fa" stroke-width="1"/><circle cx="108" cy="13" r="3" fill="#38b048"/>
      <path d="M118 7 h3 l4 -4 v12 l-4 -4 h-3 z" fill="#e8e8e8"/><path d="M127.500 5.500 q2.500 3.500 0 7" stroke="#e8e8e8" stroke-width="1" fill="none"/>
    </svg>
    <span style="left:170px;top:7px;letter-spacing:-0.3px">18:12</span>
  </div>
</div>
</div>
</body>
</html>
